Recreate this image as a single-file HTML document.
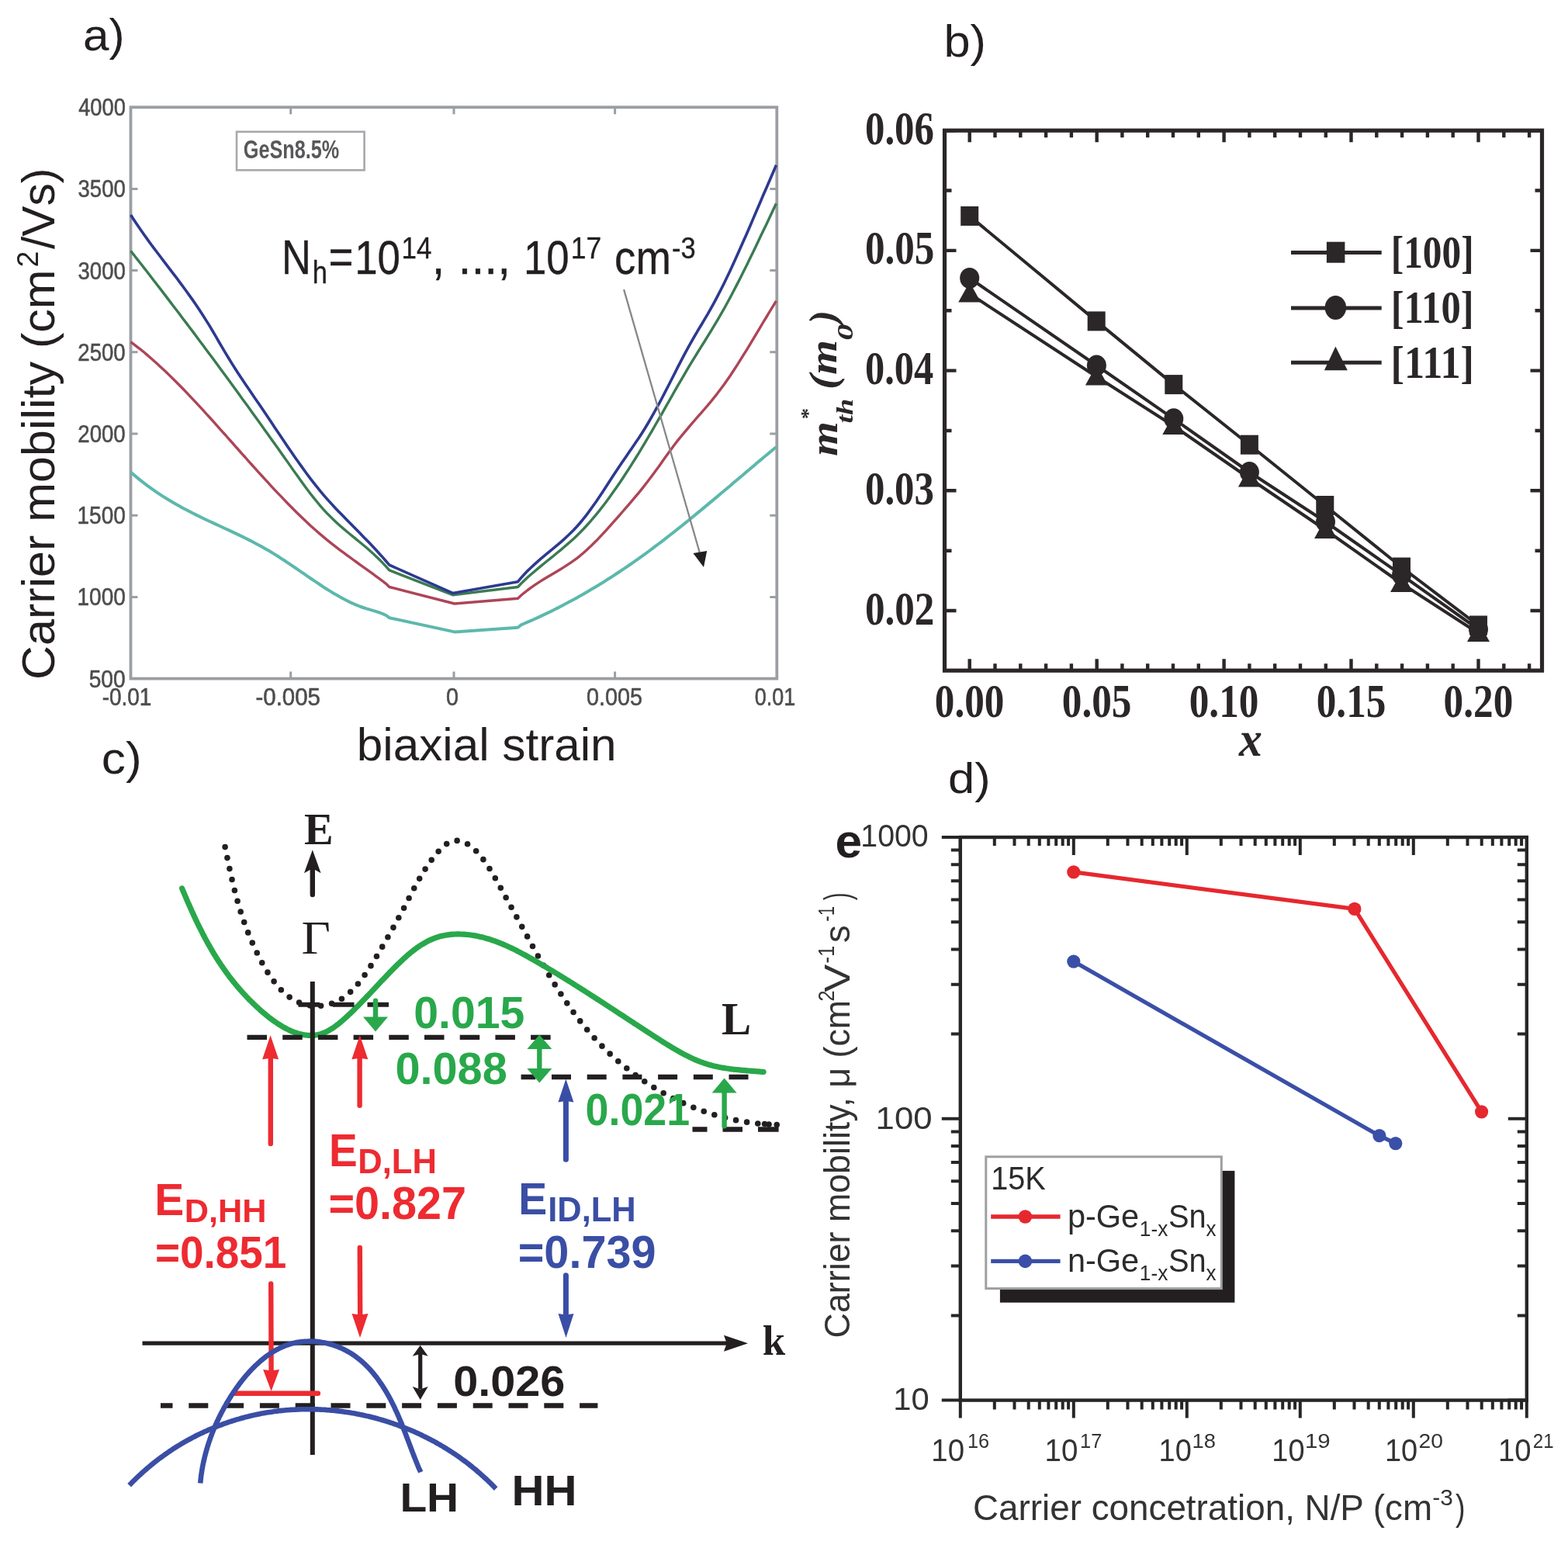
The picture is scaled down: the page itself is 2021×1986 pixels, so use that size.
<!DOCTYPE html>
<html><head><meta charset="utf-8"><title>GeSn carrier mobility figure</title>
<style>html,body{margin:0;padding:0;background:#fff;overflow:hidden;}svg{display:block;}</style>
</head><body>
<svg width="2021" height="1986" viewBox="0 0 2021 1986">
<rect x="168.5" y="138.2" width="832.8" height="736.4" fill="none" stroke="#9b9ea2" stroke-width="3.8"/>
<path d="M374.7,874.6v-9 M374.7,138.2v9 M585.0,874.6v-9 M585.0,138.2v9 M792.6,874.6v-9 M792.6,138.2v9 M168.5,769.4h9 M1001.3,769.4h-9 M168.5,664.2h9 M1001.3,664.2h-9 M168.5,559.0h9 M1001.3,559.0h-9 M168.5,453.8h9 M1001.3,453.8h-9 M168.5,348.6h9 M1001.3,348.6h-9 M168.5,243.4h9 M1001.3,243.4h-9" stroke="#9b9ea2" stroke-width="3" fill="none"/>
<path d="M168.5,608.4 L172.7,612.1 L176.9,615.6 L181.2,619.1 L185.4,622.4 L189.6,625.6 L193.8,628.7 L198.0,631.7 L202.3,634.6 L206.5,637.4 L210.7,640.1 L214.9,642.8 L219.1,645.3 L223.3,647.8 L227.6,650.2 L231.8,652.6 L236.0,654.9 L240.2,657.1 L244.4,659.3 L248.7,661.5 L252.9,663.6 L257.1,665.6 L261.3,667.7 L265.5,669.7 L269.8,671.7 L274.0,673.6 L278.2,675.6 L282.4,677.5 L286.6,679.5 L290.9,681.5 L295.1,683.4 L299.3,685.4 L303.5,687.4 L307.7,689.4 L311.9,691.4 L316.2,693.5 L320.4,695.6 L324.6,697.8 L328.8,700.0 L333.0,702.2 L337.3,704.5 L341.5,706.9 L345.7,709.3 L349.9,711.8 L354.1,714.4 L358.4,717.0 L362.6,719.8 L366.8,722.5 L371.0,725.3 L375.2,728.2 L379.4,731.0 L383.7,733.9 L387.9,736.8 L392.1,739.7 L396.3,742.6 L400.5,745.5 L404.8,748.4 L409.0,751.2 L413.2,754.0 L417.4,756.8 L421.6,759.5 L425.9,762.1 L430.1,764.7 L434.3,767.1 L438.5,769.5 L442.7,771.8 L447.0,774.0 L451.2,776.1 L455.4,778.0 L459.6,779.8 L463.8,781.5 L468.0,783.0 L472.3,784.4 L476.5,785.6 L480.7,786.9 L484.9,788.1 L489.1,789.5 L493.4,791.1 L497.6,793.0 L501.8,796.2 L585.8,814.4 L667.5,808.7 L671.7,805.3 L675.9,803.5 L680.1,801.7 L684.4,799.8 L688.6,798.0 L692.8,796.1 L697.0,794.1 L701.2,792.1 L705.4,790.1 L709.7,788.1 L713.9,786.0 L718.1,783.9 L722.3,781.7 L726.5,779.5 L730.7,777.3 L734.9,775.0 L739.2,772.8 L743.4,770.4 L747.6,768.1 L751.8,765.7 L756.0,763.2 L760.2,760.8 L764.4,758.3 L768.7,755.7 L772.9,753.2 L777.1,750.6 L781.3,747.9 L785.5,745.3 L789.7,742.6 L794.0,739.8 L798.2,737.0 L802.4,734.2 L806.6,731.4 L810.8,728.5 L815.0,725.6 L819.2,722.6 L823.5,719.7 L827.7,716.6 L831.9,713.6 L836.1,710.5 L840.3,707.4 L844.5,704.2 L848.8,701.0 L853.0,697.8 L857.2,694.6 L861.4,691.3 L865.6,688.0 L869.8,684.7 L874.0,681.4 L878.3,678.0 L882.5,674.6 L886.7,671.2 L890.9,667.8 L895.1,664.4 L899.3,660.9 L903.6,657.4 L907.8,653.9 L912.0,650.4 L916.2,646.9 L920.4,643.4 L924.6,639.9 L928.8,636.3 L933.1,632.8 L937.3,629.2 L941.5,625.7 L945.7,622.1 L949.9,618.5 L954.1,615.0 L958.3,611.4 L962.6,607.8 L966.8,604.3 L971.0,600.7 L975.2,597.1 L979.4,593.6 L983.6,590.0 L987.9,586.5 L992.1,583.0 L996.3,579.5 L1000.5,576.0" fill="none" stroke="#5cb8ac" stroke-width="4.0" stroke-linejoin="round"/>
<path d="M168.5,440.7 L172.7,443.8 L176.9,447.1 L181.2,450.4 L185.4,453.8 L189.6,457.4 L193.8,461.0 L198.0,464.7 L202.3,468.5 L206.5,472.4 L210.7,476.3 L214.9,480.3 L219.1,484.4 L223.3,488.5 L227.6,492.7 L231.8,497.0 L236.0,501.3 L240.2,505.7 L244.4,510.1 L248.7,514.6 L252.9,519.1 L257.1,523.7 L261.3,528.2 L265.5,532.9 L269.8,537.5 L274.0,542.2 L278.2,546.9 L282.4,551.6 L286.6,556.3 L290.9,561.0 L295.1,565.8 L299.3,570.5 L303.5,575.3 L307.7,580.0 L311.9,584.8 L316.2,589.5 L320.4,594.3 L324.6,599.0 L328.8,603.7 L333.0,608.4 L337.3,613.0 L341.5,617.6 L345.7,622.2 L349.9,626.8 L354.1,631.3 L358.4,635.8 L362.6,640.2 L366.8,644.6 L371.0,649.0 L375.2,653.3 L379.4,657.5 L383.7,661.7 L387.9,665.8 L392.1,669.8 L396.3,673.8 L400.5,677.7 L404.8,681.5 L409.0,685.2 L413.2,688.9 L417.4,692.4 L421.6,695.9 L425.9,699.3 L430.1,702.6 L434.3,705.9 L438.5,709.1 L442.7,712.2 L447.0,715.4 L451.2,718.4 L455.4,721.5 L459.6,724.5 L463.8,727.6 L468.0,730.6 L472.3,733.6 L476.5,736.7 L480.7,739.7 L484.9,742.8 L489.1,745.9 L493.4,749.1 L497.6,752.3 L501.8,756.5 L585.8,778.0 L667.5,771.2 L671.7,767.3 L675.9,763.8 L680.1,760.5 L684.4,757.4 L688.6,754.4 L692.8,751.6 L697.0,748.9 L701.2,746.3 L705.4,743.8 L709.7,741.3 L713.9,738.8 L718.1,736.3 L722.3,733.7 L726.5,731.1 L730.7,728.4 L734.9,725.6 L739.2,722.7 L743.4,719.6 L747.6,716.3 L751.8,712.8 L756.0,709.0 L760.2,705.1 L764.4,701.0 L768.7,696.8 L772.9,692.4 L777.1,687.9 L781.3,683.3 L785.5,678.6 L789.7,673.9 L794.0,669.1 L798.2,664.3 L802.4,659.5 L806.6,654.7 L810.8,649.8 L815.0,644.9 L819.2,639.9 L823.5,634.8 L827.7,629.6 L831.9,624.2 L836.1,618.8 L840.3,613.2 L844.5,607.5 L848.8,601.7 L853.0,595.7 L857.2,589.8 L861.4,583.9 L865.6,578.2 L869.8,572.5 L874.0,567.1 L878.3,561.9 L882.5,556.8 L886.7,551.8 L890.9,546.9 L895.1,542.0 L899.3,537.2 L903.6,532.4 L907.8,527.5 L912.0,522.6 L916.2,517.6 L920.4,512.4 L924.6,507.1 L928.8,501.5 L933.1,495.8 L937.3,489.8 L941.5,483.7 L945.7,477.3 L949.9,470.8 L954.1,464.2 L958.3,457.4 L962.6,450.6 L966.8,443.6 L971.0,436.6 L975.2,429.6 L979.4,422.6 L983.6,415.5 L987.9,408.5 L992.1,401.5 L996.3,394.6 L1000.5,387.8" fill="none" stroke="#ad4557" stroke-width="3.4" stroke-linejoin="round"/>
<path d="M168.5,323.4 L172.7,328.7 L176.9,334.1 L181.2,339.5 L185.4,344.9 L189.6,350.3 L193.8,355.8 L198.0,361.2 L202.3,366.7 L206.5,372.1 L210.7,377.6 L214.9,383.1 L219.1,388.6 L223.3,394.2 L227.6,399.7 L231.8,405.3 L236.0,410.9 L240.2,416.4 L244.4,422.0 L248.7,427.6 L252.9,433.3 L257.1,438.9 L261.3,444.6 L265.5,450.2 L269.8,455.9 L274.0,461.6 L278.2,467.3 L282.4,473.0 L286.6,478.7 L290.9,484.5 L295.1,490.2 L299.3,496.0 L303.5,501.8 L307.7,507.6 L311.9,513.4 L316.2,519.2 L320.4,525.0 L324.6,530.9 L328.8,536.7 L333.0,542.6 L337.3,548.5 L341.5,554.4 L345.7,560.3 L349.9,566.2 L354.1,572.1 L358.4,578.0 L362.6,584.0 L366.8,589.9 L371.0,595.9 L375.2,601.9 L379.4,607.9 L383.7,613.8 L387.9,619.7 L392.1,625.5 L396.3,631.2 L400.5,636.7 L404.8,642.1 L409.0,647.3 L413.2,652.3 L417.4,657.1 L421.6,661.6 L425.9,665.9 L430.1,670.0 L434.3,673.9 L438.5,677.7 L442.7,681.4 L447.0,685.0 L451.2,688.5 L455.4,691.9 L459.6,695.4 L463.8,698.8 L468.0,702.3 L472.3,705.8 L476.5,709.5 L480.7,713.3 L484.9,717.2 L489.1,721.3 L493.4,725.6 L497.6,730.1 L501.8,734.9 L583.5,766.7 L667.5,756.5 L671.7,752.0 L675.9,748.0 L680.1,744.1 L684.4,740.3 L688.6,736.7 L692.8,733.1 L697.0,729.6 L701.2,726.2 L705.4,722.8 L709.7,719.4 L713.9,716.0 L718.1,712.5 L722.3,709.1 L726.5,705.5 L730.7,701.9 L734.9,698.2 L739.2,694.4 L743.4,690.4 L747.6,686.3 L751.8,682.0 L756.0,677.5 L760.2,672.8 L764.4,667.9 L768.7,662.8 L772.9,657.6 L777.1,652.2 L781.3,646.7 L785.5,641.0 L789.7,635.1 L794.0,629.1 L798.2,623.0 L802.4,616.7 L806.6,610.3 L810.8,603.8 L815.0,597.2 L819.2,590.5 L823.5,583.6 L827.7,576.7 L831.9,569.6 L836.1,562.5 L840.3,555.3 L844.5,548.0 L848.8,540.7 L853.0,533.3 L857.2,525.9 L861.4,518.5 L865.6,511.1 L869.8,503.7 L874.0,496.3 L878.3,489.1 L882.5,481.8 L886.7,474.7 L890.9,467.7 L895.1,460.8 L899.3,454.0 L903.6,447.2 L907.8,440.5 L912.0,433.7 L916.2,426.8 L920.4,419.9 L924.6,412.8 L928.8,405.6 L933.1,398.2 L937.3,390.5 L941.5,382.7 L945.7,374.8 L949.9,366.6 L954.1,358.4 L958.3,350.0 L962.6,341.5 L966.8,332.8 L971.0,324.2 L975.2,315.4 L979.4,306.6 L983.6,297.7 L987.9,288.9 L992.1,280.0 L996.3,271.1 L1000.5,262.2" fill="none" stroke="#3b7b52" stroke-width="3.4" stroke-linejoin="round"/>
<path d="M168.5,277.0 L172.7,283.5 L176.9,289.8 L181.2,296.0 L185.4,302.0 L189.6,307.9 L193.8,313.7 L198.0,319.3 L202.3,325.0 L206.5,330.5 L210.7,336.1 L214.9,341.6 L219.1,347.1 L223.3,352.6 L227.6,358.2 L231.8,363.8 L236.0,369.5 L240.2,375.2 L244.4,381.1 L248.7,387.1 L252.9,393.2 L257.1,399.5 L261.3,405.9 L265.5,412.6 L269.8,419.4 L274.0,426.5 L278.2,433.7 L282.4,441.0 L286.6,448.2 L290.9,455.4 L295.1,462.3 L299.3,469.1 L303.5,475.8 L307.7,482.2 L311.9,488.6 L316.2,494.9 L320.4,501.1 L324.6,507.3 L328.8,513.5 L333.0,519.6 L337.3,525.8 L341.5,532.1 L345.7,538.3 L349.9,544.6 L354.1,550.9 L358.4,557.2 L362.6,563.5 L366.8,569.7 L371.0,575.9 L375.2,582.1 L379.4,588.2 L383.7,594.2 L387.9,600.1 L392.1,606.0 L396.3,611.7 L400.5,617.3 L404.8,622.8 L409.0,628.1 L413.2,633.3 L417.4,638.3 L421.6,643.1 L425.9,647.9 L430.1,652.4 L434.3,656.9 L438.5,661.3 L442.7,665.6 L447.0,669.9 L451.2,674.2 L455.4,678.5 L459.6,682.8 L463.8,687.1 L468.0,691.4 L472.3,695.7 L476.5,700.1 L480.7,704.6 L484.9,709.1 L489.1,713.7 L493.4,718.4 L497.6,723.2 L501.8,728.1 L583.5,764.4 L667.5,749.7 L671.7,744.6 L675.9,740.0 L680.1,735.6 L684.4,731.5 L688.6,727.6 L692.8,723.8 L697.0,720.1 L701.2,716.6 L705.4,713.1 L709.7,709.6 L713.9,706.2 L718.1,702.7 L722.3,699.1 L726.5,695.4 L730.7,691.5 L734.9,687.5 L739.2,683.3 L743.4,678.8 L747.6,674.0 L751.8,668.9 L756.0,663.6 L760.2,657.9 L764.4,652.0 L768.7,646.0 L772.9,639.7 L777.1,633.4 L781.3,627.0 L785.5,620.5 L789.7,614.0 L794.0,607.6 L798.2,601.3 L802.4,595.0 L806.6,588.9 L810.8,582.8 L815.0,576.7 L819.2,570.6 L823.5,564.3 L827.7,557.8 L831.9,551.0 L836.1,544.0 L840.3,536.7 L844.5,529.1 L848.8,521.4 L853.0,513.5 L857.2,505.4 L861.4,497.2 L865.6,489.0 L869.8,480.7 L874.0,472.4 L878.3,464.2 L882.5,456.2 L886.7,448.4 L890.9,440.8 L895.1,433.5 L899.3,426.3 L903.6,419.3 L907.8,412.2 L912.0,405.1 L916.2,397.7 L920.4,390.1 L924.6,382.2 L928.8,374.0 L933.1,365.5 L937.3,356.8 L941.5,347.9 L945.7,338.8 L949.9,329.5 L954.1,320.1 L958.3,310.6 L962.6,300.9 L966.8,291.2 L971.0,281.4 L975.2,271.5 L979.4,261.7 L983.6,251.8 L987.9,242.0 L992.1,232.2 L996.3,222.5 L1000.5,212.8" fill="none" stroke="#2d3a8f" stroke-width="3.6" stroke-linejoin="round"/>
<rect x="305" y="169.8" width="164.6" height="49.5" fill="#fff" stroke="#a6a8ab" stroke-width="2.6"/>
<path d="M804.1,373.1 L903.5,718" stroke="#85878a" stroke-width="2.3" fill="none"/>
<path d="M893.4,713 L911.2,710 L907,731.1 Z" fill="#231f20"/>
<rect x="1217.5" y="168.2" width="770.0" height="696.0" fill="none" stroke="#2b2728" stroke-width="5.2"/>
<path d="M1249.7,864.2v-15 M1249.7,168.2v15 M1282.5,864.2v-9 M1282.5,168.2v9 M1315.3,864.2v-9 M1315.3,168.2v9 M1348.1,864.2v-9 M1348.1,168.2v9 M1380.9,864.2v-9 M1380.9,168.2v9 M1413.7,864.2v-15 M1413.7,168.2v15 M1446.4,864.2v-9 M1446.4,168.2v9 M1479.2,864.2v-9 M1479.2,168.2v9 M1512.0,864.2v-9 M1512.0,168.2v9 M1544.8,864.2v-9 M1544.8,168.2v9 M1577.6,864.2v-15 M1577.6,168.2v15 M1610.4,864.2v-9 M1610.4,168.2v9 M1643.2,864.2v-9 M1643.2,168.2v9 M1676.0,864.2v-9 M1676.0,168.2v9 M1708.8,864.2v-9 M1708.8,168.2v9 M1741.5,864.2v-15 M1741.5,168.2v15 M1774.3,864.2v-9 M1774.3,168.2v9 M1807.1,864.2v-9 M1807.1,168.2v9 M1839.9,864.2v-9 M1839.9,168.2v9 M1872.7,864.2v-9 M1872.7,168.2v9 M1905.5,864.2v-15 M1905.5,168.2v15 M1938.3,864.2v-9 M1938.3,168.2v9 M1971.1,864.2v-9 M1971.1,168.2v9 M1217.5,168.2h15 M1987.5,168.2h-15 M1217.5,245.5h9 M1987.5,245.5h-9 M1217.5,322.9h15 M1987.5,322.9h-15 M1217.5,400.2h9 M1987.5,400.2h-9 M1217.5,477.6h15 M1987.5,477.6h-15 M1217.5,555.0h9 M1987.5,555.0h-9 M1217.5,632.3h15 M1987.5,632.3h-15 M1217.5,709.7h9 M1987.5,709.7h-9 M1217.5,787.0h15 M1987.5,787.0h-15" stroke="#2b2728" stroke-width="4.4" fill="none"/>
<path d="M1249.7,378.5 L1413.4,485.5 L1512.8,549.0 L1610.4,616.5 L1708.5,683.0 L1806.5,752.0 L1905.5,816.0" fill="none" stroke="#2b2728" stroke-width="4.0" stroke-linejoin="round"/>
<path d="M1249.7,358.4 L1413.4,471.0 L1512.8,539.8 L1610.4,608.5 L1708.5,672.5 L1806.5,741.0 L1905.5,811.0" fill="none" stroke="#2b2728" stroke-width="4.0" stroke-linejoin="round"/>
<path d="M1249.7,278.4 L1413.2,413.9 L1512.8,495.6 L1610.4,573.2 L1707.8,651.5 L1806.5,731.0 L1905.5,806.0" fill="none" stroke="#2b2728" stroke-width="4.0" stroke-linejoin="round"/>
<rect x="1238.2" y="265.9" width="23" height="25" fill="#2b2728"/>
<rect x="1401.7" y="401.4" width="23" height="25" fill="#2b2728"/>
<rect x="1501.3" y="483.1" width="23" height="25" fill="#2b2728"/>
<rect x="1598.9" y="560.7" width="23" height="25" fill="#2b2728"/>
<rect x="1696.3" y="639.0" width="23" height="25" fill="#2b2728"/>
<rect x="1795.0" y="718.5" width="23" height="25" fill="#2b2728"/>
<rect x="1894.0" y="793.5" width="23" height="25" fill="#2b2728"/>
<ellipse cx="1249.7" cy="358.4" rx="12.5" ry="13.5" fill="#2b2728"/>
<ellipse cx="1413.4" cy="471.0" rx="12.5" ry="13.5" fill="#2b2728"/>
<ellipse cx="1512.8" cy="539.8" rx="12.5" ry="13.5" fill="#2b2728"/>
<ellipse cx="1610.4" cy="608.5" rx="12.5" ry="13.5" fill="#2b2728"/>
<ellipse cx="1708.5" cy="672.5" rx="12.5" ry="13.5" fill="#2b2728"/>
<ellipse cx="1806.5" cy="741.0" rx="12.5" ry="13.5" fill="#2b2728"/>
<ellipse cx="1905.5" cy="811.0" rx="12.5" ry="13.5" fill="#2b2728"/>
<path d="M1249.7,363.5 L1264.2,389.5 L1235.2,389.5Z" fill="#2b2728"/>
<path d="M1413.4,470.5 L1427.9,496.5 L1398.9,496.5Z" fill="#2b2728"/>
<path d="M1512.8,534.0 L1527.3,560.0 L1498.3,560.0Z" fill="#2b2728"/>
<path d="M1610.4,601.5 L1624.9,627.5 L1595.9,627.5Z" fill="#2b2728"/>
<path d="M1708.5,668.0 L1723.0,694.0 L1694.0,694.0Z" fill="#2b2728"/>
<path d="M1806.5,737.0 L1821.0,763.0 L1792.0,763.0Z" fill="#2b2728"/>
<path d="M1905.5,801.0 L1920.0,827.0 L1891.0,827.0Z" fill="#2b2728"/>
<path d="M1664,325.6H1780.7" stroke="#2b2728" stroke-width="5"/>
<path d="M1664,397.1H1780.7" stroke="#2b2728" stroke-width="5"/>
<path d="M1664,467.3H1780.7" stroke="#2b2728" stroke-width="5"/>
<rect x="1709.9" y="311.7" width="23.5" height="27" fill="#2b2728"/>
<ellipse cx="1721.4" cy="396.5" rx="13.7" ry="15.5" fill="#2b2728"/>
<path d="M1721.4,446.4 L1736.8,477.3 L1706.9,477.3Z" fill="#2b2728"/>
<path d="M290.1,1091.6 L290.6,1093.7 L291.0,1095.9 L291.4,1098.0 L291.9,1100.1 L292.3,1102.2 L292.7,1104.3 L293.1,1106.4 L293.6,1108.4 L294.0,1110.5 L294.4,1112.5 L294.9,1114.6 L295.3,1116.6 L295.7,1118.6 L296.1,1120.6 L296.6,1122.6 L297.0,1124.6 L297.5,1126.6 L297.9,1128.5 L298.3,1130.5 L298.8,1132.4 L299.2,1134.4 L299.7,1136.3 L300.1,1138.2 L300.6,1140.2 L301.1,1142.1 L301.5,1144.0 L302.0,1145.9 L302.5,1147.8 L303.0,1149.7 L303.4,1151.6 L303.9,1153.4 L304.4,1155.3 L304.9,1157.2 L305.5,1159.0 L306.0,1160.9 L306.5,1162.8 L307.0,1164.6 L307.6,1166.5 L308.1,1168.3 L308.7,1170.1 L309.2,1172.0 L309.8,1173.8 L310.4,1175.7 L311.0,1177.5 L311.5,1179.3 L312.2,1181.2 L312.8,1183.0 L313.4,1184.8 L314.0,1186.7 L314.7,1188.5 L315.3,1190.3 L316.0,1192.1 L316.7,1194.0 L317.3,1195.8 L318.0,1197.6 L318.7,1199.5 L319.5,1201.3 L320.2,1203.2 L320.9,1205.0 L321.7,1206.8 L322.5,1208.7 L323.3,1210.5 L324.1,1212.4 L324.9,1214.3 L325.7,1216.1 L326.5,1218.0 L327.4,1219.9 L328.2,1221.7 L329.1,1223.6 L330.0,1225.5 L330.9,1227.4 L331.9,1229.3 L332.8,1231.2 L333.8,1233.1 L334.7,1235.0 L335.7,1236.9 L336.7,1238.8 L337.7,1240.7 L338.8,1242.6 L339.8,1244.5 L340.9,1246.4 L342.0,1248.3 L343.1,1250.1 L344.2,1252.0 L345.4,1253.8 L346.6,1255.6 L347.7,1257.4 L348.9,1259.2 L350.2,1260.9 L351.4,1262.6 L352.7,1264.3 L353.9,1266.0 L355.2,1267.7 L356.5,1269.3 L357.9,1270.9 L359.2,1272.4 L360.6,1273.9 L362.0,1275.4 L363.4,1276.9 L364.9,1278.2 L366.3,1279.6 L367.8,1280.9 L369.3,1282.2 L370.8,1283.4 L372.4,1284.6 L374.0,1285.7 L375.5,1286.7 L377.2,1287.8 L378.8,1288.7 L380.5,1289.6 L382.1,1290.5 L383.8,1291.3 L385.5,1292.0 L387.3,1292.7 L389.0,1293.3 L390.8,1293.9 L392.5,1294.4 L394.3,1294.8 L396.1,1295.2 L397.9,1295.6 L399.7,1295.9 L401.5,1296.1 L403.3,1296.3 L405.2,1296.4 L407.0,1296.5 L408.8,1296.5 L410.6,1296.5 L412.4,1296.4 L414.3,1296.2 L416.1,1296.0 L417.9,1295.8 L419.7,1295.4 L421.5,1295.1 L423.3,1294.6 L425.0,1294.1 L426.8,1293.6 L428.6,1293.0 L430.3,1292.3 L432.0,1291.6 L433.7,1290.9 L435.4,1290.0 L437.1,1289.1 L438.7,1288.2 L440.4,1287.2 L442.0,1286.2 L443.6,1285.1 L445.1,1283.9 L446.7,1282.7 L448.2,1281.4 L449.7,1280.2 L451.2,1278.8 L452.7,1277.4 L454.1,1276.0 L455.6,1274.5 L457.0,1273.0 L458.4,1271.5 L459.8,1269.9 L461.1,1268.3 L462.5,1266.7 L463.8,1265.1 L465.1,1263.4 L466.4,1261.7 L467.7,1259.9 L468.9,1258.2 L470.2,1256.4 L471.4,1254.7 L472.6,1252.9 L473.8,1251.1 L475.0,1249.3 L476.2,1247.5 L477.4,1245.6 L478.5,1243.8 L479.7,1242.0 L480.8,1240.1 L481.9,1238.3 L483.0,1236.5 L484.1,1234.7 L485.2,1232.9 L486.2,1231.1 L487.3,1229.3 L488.4,1227.5 L489.4,1225.7 L490.4,1224.0 L491.5,1222.3 L492.5,1220.5 L493.5,1218.8 L494.5,1217.1 L495.5,1215.4 L496.5,1213.7 L497.4,1212.0 L498.4,1210.3 L499.4,1208.7 L500.3,1207.0 L501.3,1205.3 L502.2,1203.7 L503.2,1202.0 L504.1,1200.4 L505.1,1198.7 L506.0,1197.1 L506.9,1195.4 L507.8,1193.8 L508.8,1192.1 L509.7,1190.4 L510.6,1188.8 L511.5,1187.1 L512.4,1185.5 L513.3,1183.8 L514.2,1182.1 L515.1,1180.4 L516.0,1178.7 L517.0,1177.0 L517.9,1175.3 L518.8,1173.6 L519.7,1171.9 L520.6,1170.2 L521.5,1168.4 L522.4,1166.7 L523.3,1164.9 L524.3,1163.1 L525.2,1161.3 L526.1,1159.5 L527.0,1157.7 L528.0,1155.9 L528.9,1154.1 L529.9,1152.3 L530.8,1150.4 L531.8,1148.6 L532.8,1146.8 L533.7,1144.9 L534.7,1143.1 L535.7,1141.2 L536.7,1139.4 L537.8,1137.5 L538.8,1135.7 L539.8,1133.8 L540.9,1132.0 L541.9,1130.1 L543.0,1128.3 L544.1,1126.5 L545.2,1124.7 L546.4,1122.8 L547.5,1121.0 L548.7,1119.2 L549.8,1117.4 L551.0,1115.6 L552.2,1113.9 L553.5,1112.1 L554.7,1110.3 L556.0,1108.6 L557.3,1106.9 L558.6,1105.1 L559.9,1103.4 L561.3,1101.8 L562.6,1100.1 L564.0,1098.5 L565.4,1096.9 L566.9,1095.4 L568.3,1093.9 L569.8,1092.5 L571.2,1091.1 L572.7,1089.9 L574.2,1088.7 L575.7,1087.6 L577.2,1086.7 L578.7,1085.8 L580.2,1085.1 L581.8,1084.5 L583.3,1084.0 L584.8,1083.7 L586.3,1083.5 L587.9,1083.4 L589.4,1083.4 L590.9,1083.5 L592.4,1083.8 L593.9,1084.1 L595.4,1084.5 L596.9,1085.0 L598.4,1085.6 L599.8,1086.3 L601.3,1087.1 L602.7,1087.9 L604.1,1088.8 L605.5,1089.8 L606.9,1090.8 L608.3,1091.9 L609.6,1093.0 L611.0,1094.2 L612.3,1095.4 L613.6,1096.7 L615.0,1098.1 L616.2,1099.5 L617.5,1100.9 L618.8,1102.4 L620.0,1104.0 L621.3,1105.5 L622.5,1107.1 L623.7,1108.8 L624.9,1110.4 L626.1,1112.1 L627.3,1113.9 L628.5,1115.6 L629.7,1117.4 L630.8,1119.2 L632.0,1121.0 L633.1,1122.9 L634.2,1124.7 L635.3,1126.6 L636.5,1128.5 L637.6,1130.4 L638.6,1132.3 L639.7,1134.2 L640.8,1136.1 L641.9,1138.0 L642.9,1139.9 L644.0,1141.8 L645.0,1143.7 L646.1,1145.6 L647.1,1147.4 L648.1,1149.3 L649.1,1151.2 L650.1,1153.0 L651.1,1154.8 L652.1,1156.7 L653.1,1158.5 L654.1,1160.3 L655.1,1162.1 L656.1,1163.9 L657.1,1165.7 L658.0,1167.5 L659.0,1169.2 L660.0,1171.0 L660.9,1172.8 L661.9,1174.5 L662.8,1176.3 L663.8,1178.0 L664.7,1179.7 L665.7,1181.5 L666.6,1183.2 L667.6,1184.9 L668.5,1186.7 L669.5,1188.4 L670.4,1190.1 L671.3,1191.8 L672.3,1193.5 L673.2,1195.2 L674.1,1197.0 L675.1,1198.7 L676.0,1200.4 L677.0,1202.1 L677.9,1203.8 L678.8,1205.5 L679.8,1207.2 L680.7,1208.9 L681.7,1210.7 L682.6,1212.4 L683.6,1214.1 L684.5,1215.8 L685.5,1217.6 L686.4,1219.3 L687.4,1221.0 L688.3,1222.7 L689.3,1224.5 L690.2,1226.2 L691.2,1227.9 L692.2,1229.6 L693.1,1231.4 L694.1,1233.1 L695.1,1234.8 L696.1,1236.6 L697.1,1238.3 L698.1,1240.0 L699.0,1241.8 L700.0,1243.5 L701.0,1245.2 L702.0,1246.9 L703.0,1248.7 L704.0,1250.4 L705.1,1252.1 L706.1,1253.8 L707.1,1255.6 L708.1,1257.3 L709.1,1259.0 L710.2,1260.7 L711.2,1262.4 L712.3,1264.1 L713.3,1265.8 L714.4,1267.5 L715.4,1269.3 L716.5,1271.0 L717.5,1272.7 L718.6,1274.4 L719.7,1276.0 L720.8,1277.7 L721.9,1279.4 L723.0,1281.1 L724.1,1282.8 L725.2,1284.5 L726.3,1286.1 L727.4,1287.8 L728.5,1289.5 L729.6,1291.1 L730.8,1292.8 L731.9,1294.5 L733.1,1296.1 L734.2,1297.8 L735.4,1299.4 L736.5,1301.0 L737.7,1302.7 L738.9,1304.3 L740.1,1305.9 L741.3,1307.5 L742.5,1309.1 L743.7,1310.7 L744.9,1312.3 L746.1,1313.9 L747.4,1315.5 L748.6,1317.1 L749.8,1318.7 L751.1,1320.2 L752.4,1321.8 L753.6,1323.3 L754.9,1324.9 L756.2,1326.4 L757.5,1328.0 L758.8,1329.5 L760.1,1331.0 L761.4,1332.5 L762.7,1334.0 L764.1,1335.5 L765.4,1337.0 L766.8,1338.5 L768.1,1340.0 L769.5,1341.5 L770.9,1342.9 L772.3,1344.4 L773.6,1345.8 L775.0,1347.3 L776.5,1348.7 L777.9,1350.1 L779.3,1351.5 L780.7,1352.9 L782.2,1354.3 L783.6,1355.7 L785.1,1357.1 L786.5,1358.5 L788.0,1359.8 L789.5,1361.2 L791.0,1362.6 L792.4,1363.9 L793.9,1365.2 L795.5,1366.6 L797.0,1367.9 L798.5,1369.2 L800.0,1370.5 L801.5,1371.8 L803.1,1373.0 L804.6,1374.3 L806.2,1375.6 L807.8,1376.8 L809.3,1378.1 L810.9,1379.3 L812.5,1380.5 L814.1,1381.8 L815.7,1383.0 L817.3,1384.2 L818.9,1385.4 L820.5,1386.6 L822.1,1387.7 L823.8,1388.9 L825.4,1390.0 L827.0,1391.2 L828.7,1392.3 L830.3,1393.5 L832.0,1394.6 L833.7,1395.7 L835.3,1396.8 L837.0,1397.9 L838.7,1398.9 L840.4,1400.0 L842.1,1401.1 L843.8,1402.1 L845.5,1403.2 L847.2,1404.2 L848.9,1405.2 L850.7,1406.2 L852.4,1407.2 L854.1,1408.2 L855.9,1409.2 L857.6,1410.1 L859.4,1411.1 L861.1,1412.0 L862.9,1413.0 L864.7,1413.9 L866.4,1414.8 L868.2,1415.7 L870.0,1416.6 L871.8,1417.5 L873.6,1418.4 L875.4,1419.2 L877.2,1420.1 L879.0,1420.9 L880.8,1421.7 L882.7,1422.6 L884.5,1423.4 L886.3,1424.2 L888.2,1424.9 L890.0,1425.7 L891.8,1426.5 L893.7,1427.2 L895.5,1428.0 L897.4,1428.7 L899.3,1429.4 L901.1,1430.1 L903.0,1430.8 L904.9,1431.5 L906.8,1432.1 L908.7,1432.8 L910.5,1433.5 L912.4,1434.1 L914.3,1434.7 L916.2,1435.3 L918.1,1435.9 L920.1,1436.5 L922.0,1437.1 L923.9,1437.6 L925.8,1438.2 L927.7,1438.7 L929.7,1439.2 L931.6,1439.8 L933.5,1440.3 L935.5,1440.7 L937.4,1441.2 L939.4,1441.7 L941.3,1442.1 L943.3,1442.6 L945.2,1443.0 L947.2,1443.4 L949.2,1443.8 L951.1,1444.2 L953.1,1444.6 L955.1,1444.9 L957.0,1445.3 L959.0,1445.6 L961.0,1445.9 L963.0,1446.2 L965.0,1446.5 L967.0,1446.8 L969.0,1447.1 L971.0,1447.3 L973.0,1447.6 L975.0,1447.8 L977.0,1448.0 L979.0,1448.2 L981.0,1448.4 L983.0,1448.6 L985.0,1448.7 L987.1,1448.9 L989.1,1449.0 L991.1,1449.1 L993.1,1449.2 L995.2,1449.3 L997.2,1449.4 L999.2,1449.5 L1001.2,1449.5" fill="none" stroke="#231f20" stroke-width="7.6" stroke-linecap="round" stroke-dasharray="0 14.3"/>
<path d="M234.6,1144.9 L235.4,1146.8 L236.2,1148.8 L237.0,1150.7 L237.8,1152.6 L238.7,1154.6 L239.5,1156.5 L240.3,1158.4 L241.1,1160.3 L241.9,1162.2 L242.8,1164.1 L243.6,1166.0 L244.4,1167.9 L245.3,1169.8 L246.1,1171.6 L246.9,1173.5 L247.8,1175.3 L248.6,1177.2 L249.5,1179.0 L250.3,1180.9 L251.2,1182.7 L252.0,1184.5 L252.9,1186.4 L253.8,1188.2 L254.6,1190.0 L255.5,1191.8 L256.4,1193.6 L257.3,1195.4 L258.2,1197.2 L259.1,1198.9 L260.0,1200.7 L260.9,1202.5 L261.8,1204.3 L262.7,1206.0 L263.6,1207.8 L264.5,1209.5 L265.5,1211.2 L266.4,1213.0 L267.4,1214.7 L268.3,1216.4 L269.3,1218.1 L270.3,1219.8 L271.2,1221.5 L272.2,1223.2 L273.2,1224.9 L274.2,1226.6 L275.2,1228.3 L276.2,1230.0 L277.3,1231.6 L278.3,1233.3 L279.3,1235.0 L280.4,1236.6 L281.4,1238.3 L282.5,1239.9 L283.6,1241.5 L284.7,1243.2 L285.8,1244.8 L286.9,1246.4 L288.0,1248.0 L289.1,1249.6 L290.3,1251.2 L291.4,1252.8 L292.6,1254.4 L293.8,1256.0 L294.9,1257.6 L296.1,1259.2 L297.3,1260.7 L298.5,1262.3 L299.8,1263.8 L301.0,1265.4 L302.3,1266.9 L303.5,1268.5 L304.8,1270.0 L306.1,1271.6 L307.4,1273.1 L308.7,1274.6 L310.0,1276.1 L311.4,1277.6 L312.7,1279.1 L314.1,1280.6 L315.5,1282.1 L316.9,1283.6 L318.3,1285.1 L319.7,1286.6 L321.1,1288.1 L322.6,1289.5 L324.1,1291.0 L325.5,1292.4 L327.0,1293.9 L328.6,1295.3 L330.1,1296.8 L331.6,1298.2 L333.2,1299.7 L334.8,1301.1 L336.3,1302.5 L337.9,1303.9 L339.6,1305.3 L341.2,1306.6 L342.8,1308.0 L344.5,1309.3 L346.1,1310.7 L347.8,1312.0 L349.5,1313.2 L351.2,1314.5 L352.9,1315.7 L354.6,1316.9 L356.3,1318.1 L358.0,1319.3 L359.8,1320.4 L361.5,1321.5 L363.3,1322.5 L365.0,1323.6 L366.8,1324.5 L368.6,1325.5 L370.3,1326.4 L372.1,1327.3 L373.9,1328.1 L375.7,1328.9 L377.5,1329.6 L379.3,1330.3 L381.1,1330.9 L382.9,1331.5 L384.7,1332.1 L386.5,1332.6 L388.3,1333.0 L390.1,1333.4 L391.9,1333.7 L393.7,1334.0 L395.5,1334.2 L397.3,1334.3 L399.1,1334.4 L400.9,1334.4 L402.7,1334.4 L404.5,1334.3 L406.3,1334.1 L408.0,1333.8 L409.8,1333.5 L411.5,1333.1 L413.3,1332.6 L415.0,1332.0 L416.8,1331.4 L418.5,1330.7 L420.2,1329.9 L421.9,1329.1 L423.6,1328.2 L425.2,1327.2 L426.9,1326.2 L428.6,1325.2 L430.2,1324.1 L431.8,1322.9 L433.5,1321.7 L435.1,1320.5 L436.7,1319.2 L438.3,1317.9 L439.9,1316.6 L441.5,1315.2 L443.0,1313.8 L444.6,1312.4 L446.2,1311.0 L447.7,1309.6 L449.2,1308.2 L450.8,1306.7 L452.3,1305.3 L453.8,1303.8 L455.3,1302.4 L456.8,1300.9 L458.2,1299.4 L459.7,1298.0 L461.2,1296.5 L462.7,1295.0 L464.1,1293.5 L465.6,1292.0 L467.0,1290.6 L468.4,1289.1 L469.9,1287.6 L471.3,1286.1 L472.7,1284.6 L474.2,1283.1 L475.6,1281.6 L477.0,1280.1 L478.4,1278.6 L479.8,1277.1 L481.2,1275.6 L482.6,1274.1 L484.0,1272.6 L485.4,1271.1 L486.8,1269.6 L488.2,1268.1 L489.6,1266.6 L491.0,1265.1 L492.4,1263.6 L493.8,1262.2 L495.2,1260.7 L496.7,1259.2 L498.1,1257.7 L499.5,1256.2 L500.9,1254.8 L502.3,1253.3 L503.7,1251.9 L505.1,1250.4 L506.6,1248.9 L508.0,1247.5 L509.4,1246.1 L510.9,1244.6 L512.3,1243.2 L513.8,1241.8 L515.3,1240.4 L516.7,1239.0 L518.2,1237.6 L519.7,1236.2 L521.2,1234.8 L522.7,1233.5 L524.2,1232.1 L525.7,1230.8 L527.2,1229.5 L528.7,1228.2 L530.3,1227.0 L531.8,1225.7 L533.4,1224.5 L535.0,1223.3 L536.5,1222.2 L538.1,1221.0 L539.7,1219.9 L541.4,1218.8 L543.0,1217.8 L544.6,1216.8 L546.3,1215.8 L548.0,1214.8 L549.6,1213.9 L551.3,1213.0 L553.1,1212.1 L554.8,1211.3 L556.5,1210.6 L558.3,1209.8 L560.1,1209.1 L561.8,1208.5 L563.7,1207.9 L565.5,1207.3 L567.3,1206.8 L569.2,1206.3 L571.0,1205.9 L572.9,1205.5 L574.8,1205.2 L576.7,1204.9 L578.7,1204.6 L580.6,1204.4 L582.6,1204.2 L584.5,1204.1 L586.5,1204.0 L588.4,1203.9 L590.4,1203.9 L592.4,1203.9 L594.4,1204.0 L596.4,1204.1 L598.4,1204.2 L600.4,1204.3 L602.4,1204.5 L604.4,1204.7 L606.4,1205.0 L608.4,1205.3 L610.4,1205.6 L612.4,1205.9 L614.4,1206.3 L616.4,1206.7 L618.4,1207.2 L620.4,1207.6 L622.4,1208.1 L624.3,1208.6 L626.3,1209.2 L628.3,1209.7 L630.2,1210.3 L632.2,1210.9 L634.1,1211.6 L636.0,1212.2 L638.0,1212.9 L639.9,1213.6 L641.8,1214.3 L643.7,1215.1 L645.6,1215.8 L647.5,1216.6 L649.3,1217.4 L651.2,1218.2 L653.1,1219.0 L654.9,1219.9 L656.8,1220.8 L658.7,1221.6 L660.5,1222.5 L662.3,1223.4 L664.2,1224.3 L666.0,1225.2 L667.8,1226.2 L669.7,1227.1 L671.5,1228.1 L673.3,1229.1 L675.1,1230.0 L676.9,1231.0 L678.7,1232.0 L680.5,1233.0 L682.2,1234.0 L684.0,1235.0 L685.8,1236.0 L687.6,1237.0 L689.3,1238.0 L691.1,1239.0 L692.9,1240.1 L694.6,1241.1 L696.4,1242.1 L698.1,1243.1 L699.9,1244.2 L701.6,1245.2 L703.4,1246.2 L705.1,1247.3 L706.8,1248.3 L708.6,1249.3 L710.3,1250.4 L712.0,1251.4 L713.7,1252.4 L715.5,1253.5 L717.2,1254.5 L718.9,1255.5 L720.6,1256.6 L722.3,1257.6 L724.0,1258.7 L725.7,1259.7 L727.4,1260.8 L729.1,1261.8 L730.8,1262.9 L732.5,1263.9 L734.2,1265.0 L735.9,1266.0 L737.6,1267.1 L739.2,1268.1 L740.9,1269.2 L742.6,1270.3 L744.3,1271.3 L746.0,1272.4 L747.6,1273.4 L749.3,1274.5 L751.0,1275.6 L752.7,1276.6 L754.3,1277.7 L756.0,1278.8 L757.7,1279.8 L759.4,1280.9 L761.0,1282.0 L762.7,1283.1 L764.4,1284.1 L766.0,1285.2 L767.7,1286.3 L769.3,1287.4 L771.0,1288.4 L772.7,1289.5 L774.3,1290.6 L776.0,1291.7 L777.7,1292.7 L779.3,1293.8 L781.0,1294.9 L782.6,1296.0 L784.3,1297.1 L786.0,1298.2 L787.6,1299.2 L789.3,1300.3 L791.0,1301.4 L792.6,1302.5 L794.3,1303.6 L795.9,1304.7 L797.6,1305.8 L799.3,1306.9 L800.9,1307.9 L802.6,1309.0 L804.3,1310.1 L805.9,1311.2 L807.6,1312.3 L809.3,1313.4 L810.9,1314.5 L812.6,1315.6 L814.3,1316.7 L816.0,1317.8 L817.6,1318.9 L819.3,1320.0 L821.0,1321.1 L822.7,1322.2 L824.4,1323.3 L826.1,1324.4 L827.7,1325.5 L829.4,1326.6 L831.1,1327.7 L832.8,1328.8 L834.5,1329.9 L836.2,1331.0 L837.9,1332.1 L839.6,1333.2 L841.3,1334.3 L843.0,1335.4 L844.7,1336.5 L846.4,1337.6 L848.2,1338.7 L849.9,1339.8 L851.6,1340.9 L853.3,1342.0 L855.0,1343.1 L856.8,1344.2 L858.5,1345.3 L860.2,1346.3 L862.0,1347.4 L863.7,1348.5 L865.5,1349.5 L867.2,1350.6 L869.0,1351.6 L870.7,1352.7 L872.5,1353.7 L874.2,1354.7 L876.0,1355.7 L877.8,1356.7 L879.6,1357.6 L881.3,1358.6 L883.1,1359.5 L884.9,1360.4 L886.7,1361.3 L888.5,1362.2 L890.3,1363.1 L892.1,1363.9 L893.9,1364.8 L895.8,1365.6 L897.6,1366.4 L899.4,1367.1 L901.2,1367.8 L903.1,1368.6 L904.9,1369.2 L906.8,1369.9 L908.6,1370.5 L910.5,1371.1 L912.4,1371.7 L914.2,1372.3 L916.1,1372.8 L918.0,1373.3 L919.9,1373.8 L921.8,1374.2 L923.7,1374.6 L925.6,1375.0 L927.5,1375.4 L929.4,1375.8 L931.4,1376.1 L933.3,1376.4 L935.2,1376.8 L937.2,1377.0 L939.2,1377.3 L941.1,1377.6 L943.1,1377.8 L945.1,1378.1 L947.0,1378.3 L949.0,1378.5 L951.0,1378.7 L953.0,1378.9 L955.1,1379.1 L957.1,1379.3 L959.1,1379.4 L961.1,1379.6 L963.2,1379.8 L965.2,1380.0 L967.3,1380.1 L969.4,1380.3 L971.5,1380.4 L973.5,1380.6 L975.6,1380.8 L977.7,1380.9 L979.8,1381.1 L982.0,1381.3 L984.1,1381.5" fill="none" stroke="#29a84b" stroke-width="7.2" stroke-linecap="round"/>
<path d="M318.5,1336.8H710" stroke="#231f20" stroke-width="6.3" stroke-dasharray="25.5 20.2"/>
<path d="M384.5,1294.8H503.8" stroke="#231f20" stroke-width="6" stroke-dasharray="27.5 17"/>
<path d="M671.6,1388H964.5" stroke="#231f20" stroke-width="6.3" stroke-dasharray="25 20.7" stroke-dashoffset="6.3"/>
<path d="M892.5,1455.5H1003.6" stroke="#231f20" stroke-width="6.3" stroke-dasharray="19 20 25.5 20 27"/>
<circle cx="985.6" cy="1448.5" r="3.8" fill="#231f20"/><circle cx="1001.2" cy="1449.5" r="3.8" fill="#231f20"/>
<path d="M207,1811.5H770.4" stroke="#231f20" stroke-width="6.3" stroke-dasharray="25 20.8" stroke-dashoffset="9.5"/>
<path d="M402.8,1265V1875" stroke="#231f20" stroke-width="6"/>
<path d="M183.5,1731.2H940" stroke="#231f20" stroke-width="5.2"/>
<path d="M964.0,1731.2 L933.0,1741.7 L936.7,1731.2 L933.0,1720.7Z" fill="#231f20"/>
<path d="M402.8,1153V1115" stroke="#231f20" stroke-width="6.4" stroke-linecap="round"/>
<path d="M402.8,1095.3 L413.6,1125.3 L402.8,1119.3 L392.0,1125.3Z" fill="#231f20"/>
<path d="M348.8,1474V1355" stroke="#ed2b31" stroke-width="6.4" stroke-linecap="round"/>
<path d="M348.6,1334.3 L359.1,1365.3 L348.6,1363.8 L338.1,1365.3Z" fill="#ed2b31"/>
<path d="M463.6,1424.7V1355" stroke="#ed2b31" stroke-width="6.4" stroke-linecap="round"/>
<path d="M463.8,1334.3 L474.3,1365.3 L463.8,1363.8 L453.3,1365.3Z" fill="#ed2b31"/>
<path d="M349.2,1654.5L349.6,1770" stroke="#ed2b31" stroke-width="6.4" stroke-linecap="round"/>
<path d="M349.6,1793.0 L339.1,1765.0 L349.6,1766.4 L360.1,1765.0Z" fill="#ed2b31"/>
<path d="M463.8,1608L464.2,1700" stroke="#ed2b31" stroke-width="6.4" stroke-linecap="round"/>
<path d="M464.0,1724.0 L453.5,1693.0 L464.0,1694.5 L474.5,1693.0Z" fill="#ed2b31"/>
<path d="M302.6,1795.7H409.9" stroke="#ed2b31" stroke-width="6.4" stroke-linecap="round"/>
<path d="M729.4,1494.2V1410" stroke="#3a4ea5" stroke-width="7" stroke-linecap="round"/>
<path d="M729.4,1390.5 L739.4,1420.5 L729.4,1419.0 L719.4,1420.5Z" fill="#3a4ea5"/>
<path d="M729.4,1643.8V1700" stroke="#3a4ea5" stroke-width="7" stroke-linecap="round"/>
<path d="M729.5,1724.0 L719.5,1693.0 L729.5,1694.5 L739.5,1693.0Z" fill="#3a4ea5"/>
<path d="M484,1289.8V1312" stroke="#29a84b" stroke-width="6.4" stroke-linecap="round"/>
<path d="M484.0,1329.6 L468.0,1310.6 L484.0,1310.6 L500.0,1310.6Z" fill="#29a84b"/>
<path d="M695.3,1350V1378" stroke="#29a84b" stroke-width="6.4"/>
<path d="M695.3,1333.6 L711.3,1352.1 L695.3,1352.1 L679.3,1352.1Z" fill="#29a84b"/>
<path d="M695.3,1395.5 L679.3,1377.0 L695.3,1377.0 L711.3,1377.0Z" fill="#29a84b"/>
<path d="M933.6,1451.3V1405" stroke="#29a84b" stroke-width="6.4" stroke-linecap="round"/>
<path d="M933.6,1389.6 L949.6,1408.6 L933.6,1408.6 L917.6,1408.6Z" fill="#29a84b"/>
<path d="M541.7,1745V1790" stroke="#231f20" stroke-width="5.2"/>
<path d="M541.7,1733.7 L551.7,1747.7 L541.7,1744.9 L531.7,1747.7Z" fill="#231f20"/>
<path d="M541.7,1804.1 L531.7,1787.1 L541.7,1790.5 L551.7,1787.1Z" fill="#231f20"/>
<path d="M258.2,1911.5 L258.4,1909.6 L258.6,1907.7 L258.8,1905.8 L259.0,1903.8 L259.2,1901.9 L259.5,1900.0 L259.8,1898.1 L260.1,1896.2 L260.4,1894.3 L260.7,1892.3 L261.1,1890.4 L261.4,1888.5 L261.8,1886.6 L262.2,1884.7 L262.6,1882.8 L263.1,1880.9 L263.5,1878.9 L264.0,1877.0 L264.5,1875.1 L265.0,1873.2 L265.5,1871.3 L266.0,1869.4 L266.6,1867.5 L267.1,1865.6 L267.7,1863.7 L268.3,1861.8 L268.9,1859.9 L269.5,1858.0 L270.2,1856.1 L270.8,1854.2 L271.5,1852.3 L272.2,1850.5 L272.9,1848.6 L273.6,1846.7 L274.4,1844.8 L275.1,1842.9 L275.9,1841.1 L276.7,1839.2 L277.5,1837.3 L278.3,1835.5 L279.2,1833.6 L280.0,1831.7 L280.9,1829.9 L281.8,1828.0 L282.6,1826.2 L283.6,1824.4 L284.5,1822.5 L285.4,1820.7 L286.4,1818.8 L287.4,1817.0 L288.3,1815.2 L289.3,1813.4 L290.4,1811.6 L291.4,1809.8 L292.4,1808.0 L293.5,1806.2 L294.6,1804.4 L295.7,1802.6 L296.8,1800.8 L297.9,1799.0 L299.0,1797.3 L300.2,1795.5 L301.3,1793.8 L302.5,1792.0 L303.7,1790.3 L304.9,1788.6 L306.1,1786.9 L307.4,1785.2 L308.6,1783.5 L309.9,1781.8 L311.2,1780.2 L312.5,1778.5 L313.8,1776.9 L315.1,1775.3 L316.4,1773.7 L317.8,1772.1 L319.1,1770.6 L320.5,1769.0 L321.9,1767.5 L323.3,1766.0 L324.7,1764.5 L326.1,1763.1 L327.6,1761.6 L329.0,1760.2 L330.5,1758.8 L332.0,1757.4 L333.5,1756.1 L335.0,1754.7 L336.5,1753.4 L338.1,1752.1 L339.6,1750.9 L341.2,1749.6 L342.7,1748.4 L344.3,1747.3 L345.9,1746.1 L347.6,1745.0 L349.2,1743.9 L350.8,1742.9 L352.5,1741.8 L354.1,1740.9 L355.8,1739.9 L357.5,1739.0 L359.2,1738.1 L360.9,1737.2 L362.7,1736.4 L364.4,1735.7 L366.2,1734.9 L367.9,1734.2 L369.7,1733.6 L371.5,1733.0 L373.3,1732.4 L375.1,1731.8 L376.9,1731.3 L378.8,1730.9 L380.6,1730.5 L382.5,1730.1 L384.4,1729.8 L386.2,1729.5 L388.1,1729.2 L390.0,1729.0 L391.9,1728.9 L393.8,1728.7 L395.7,1728.7 L397.6,1728.6 L399.5,1728.6 L401.4,1728.6 L403.3,1728.7 L405.2,1728.8 L407.2,1728.9 L409.1,1729.1 L411.0,1729.4 L412.9,1729.6 L414.8,1729.9 L416.7,1730.2 L418.6,1730.6 L420.5,1731.0 L422.4,1731.5 L424.3,1732.0 L426.1,1732.5 L428.0,1733.0 L429.9,1733.6 L431.7,1734.3 L433.6,1734.9 L435.4,1735.6 L437.2,1736.4 L439.0,1737.1 L440.8,1737.9 L442.6,1738.8 L444.4,1739.7 L446.1,1740.6 L447.8,1741.5 L449.6,1742.5 L451.3,1743.5 L453.0,1744.6 L454.6,1745.6 L456.3,1746.7 L457.9,1747.9 L459.5,1749.1 L461.1,1750.3 L462.7,1751.5 L464.2,1752.8 L465.8,1754.1 L467.3,1755.4 L468.8,1756.8 L470.3,1758.2 L471.7,1759.6 L473.2,1761.0 L474.6,1762.5 L476.0,1764.0 L477.4,1765.5 L478.7,1767.1 L480.1,1768.6 L481.4,1770.2 L482.7,1771.8 L484.0,1773.4 L485.3,1775.0 L486.5,1776.7 L487.7,1778.4 L488.9,1780.1 L490.1,1781.8 L491.3,1783.5 L492.5,1785.2 L493.6,1787.0 L494.7,1788.7 L495.8,1790.5 L496.9,1792.3 L498.0,1794.1 L499.0,1795.9 L500.1,1797.7 L501.1,1799.5 L502.1,1801.4 L503.1,1803.2 L504.0,1805.1 L505.0,1806.9 L505.9,1808.8 L506.9,1810.7 L507.8,1812.5 L508.7,1814.4 L509.5,1816.3 L510.4,1818.2 L511.3,1820.1 L512.1,1822.0 L513.0,1823.9 L513.8,1825.8 L514.6,1827.7 L515.4,1829.6 L516.2,1831.5 L517.0,1833.4 L517.8,1835.3 L518.5,1837.2 L519.3,1839.1 L520.0,1841.0 L520.8,1842.9 L521.5,1844.8 L522.3,1846.7 L523.0,1848.6 L523.7,1850.5 L524.4,1852.4 L525.1,1854.3 L525.9,1856.2 L526.6,1858.1 L527.3,1859.9 L528.0,1861.8 L528.7,1863.7 L529.4,1865.5 L530.1,1867.4 L530.8,1869.2 L531.5,1871.1 L532.2,1872.9 L532.9,1874.7 L533.6,1876.5 L534.3,1878.3 L535.0,1880.1 L535.7,1881.9 L536.4,1883.6 L537.1,1885.4 L537.8,1887.1 L538.5,1888.9 L539.2,1890.6 L540.0,1892.3 L540.7,1894.0 L541.5,1895.6 L542.2,1897.3" fill="none" stroke="#3a4ea5" stroke-width="6.6"/>
<path d="M166.7,1914.2 L168.1,1912.7 L169.6,1911.2 L171.0,1909.8 L172.4,1908.3 L173.9,1906.9 L175.3,1905.5 L176.8,1904.0 L178.3,1902.6 L179.8,1901.3 L181.3,1899.9 L182.8,1898.5 L184.3,1897.1 L185.8,1895.8 L187.3,1894.4 L188.9,1893.1 L190.4,1891.8 L192.0,1890.5 L193.5,1889.2 L195.1,1887.9 L196.7,1886.6 L198.2,1885.3 L199.8,1884.1 L201.4,1882.8 L203.0,1881.6 L204.6,1880.4 L206.3,1879.2 L207.9,1878.0 L209.5,1876.8 L211.2,1875.6 L212.8,1874.4 L214.5,1873.3 L216.1,1872.1 L217.8,1871.0 L219.5,1869.8 L221.2,1868.7 L222.8,1867.6 L224.5,1866.5 L226.2,1865.4 L227.9,1864.4 L229.7,1863.3 L231.4,1862.3 L233.1,1861.2 L234.8,1860.2 L236.6,1859.2 L238.3,1858.2 L240.1,1857.2 L241.8,1856.2 L243.6,1855.2 L245.4,1854.3 L247.1,1853.3 L248.9,1852.4 L250.7,1851.5 L252.5,1850.5 L254.3,1849.6 L256.1,1848.8 L257.9,1847.9 L259.7,1847.0 L261.5,1846.2 L263.3,1845.3 L265.2,1844.5 L267.0,1843.7 L268.8,1842.8 L270.7,1842.0 L272.5,1841.3 L274.4,1840.5 L276.2,1839.7 L278.1,1839.0 L279.9,1838.2 L281.8,1837.5 L283.7,1836.8 L285.6,1836.1 L287.4,1835.4 L289.3,1834.7 L291.2,1834.0 L293.1,1833.4 L295.0,1832.7 L296.9,1832.1 L298.8,1831.5 L300.7,1830.9 L302.6,1830.3 L304.5,1829.7 L306.5,1829.1 L308.4,1828.6 L310.3,1828.0 L312.2,1827.5 L314.2,1827.0 L316.1,1826.4 L318.0,1825.9 L320.0,1825.5 L321.9,1825.0 L323.9,1824.5 L325.8,1824.1 L327.7,1823.6 L329.7,1823.2 L331.7,1822.8 L333.6,1822.4 L335.6,1822.0 L337.5,1821.6 L339.5,1821.3 L341.5,1820.9 L343.4,1820.6 L345.4,1820.3 L347.4,1820.0 L349.4,1819.7 L351.3,1819.4 L353.3,1819.1 L355.3,1818.8 L357.3,1818.6 L359.3,1818.3 L361.3,1818.1 L363.2,1817.9 L365.2,1817.7 L367.2,1817.5 L369.2,1817.3 L371.2,1817.2 L373.2,1817.0 L375.2,1816.9 L377.2,1816.8 L379.2,1816.7 L381.2,1816.6 L383.2,1816.5 L385.2,1816.4 L387.2,1816.3 L389.2,1816.3 L391.2,1816.2 L393.2,1816.2 L395.2,1816.2 L397.2,1816.2 L399.2,1816.2 L401.2,1816.2 L403.2,1816.3 L405.2,1816.3 L407.2,1816.4 L409.2,1816.4 L411.2,1816.5 L413.2,1816.6 L415.2,1816.7 L417.2,1816.8 L419.2,1816.9 L421.2,1817.1 L423.2,1817.2 L425.2,1817.4 L427.2,1817.6 L429.2,1817.8 L431.2,1818.0 L433.1,1818.2 L435.1,1818.4 L437.1,1818.6 L439.1,1818.9 L441.1,1819.1 L443.1,1819.4 L445.1,1819.7 L447.1,1820.0 L449.0,1820.3 L451.0,1820.6 L453.0,1821.0 L455.0,1821.3 L457.0,1821.6 L458.9,1822.0 L460.9,1822.4 L462.9,1822.8 L464.8,1823.2 L466.8,1823.6 L468.8,1824.0 L470.7,1824.4 L472.7,1824.9 L474.7,1825.3 L476.6,1825.8 L478.6,1826.3 L480.5,1826.8 L482.5,1827.3 L484.4,1827.8 L486.3,1828.3 L488.3,1828.9 L490.2,1829.4 L492.1,1830.0 L494.1,1830.5 L496.0,1831.1 L497.9,1831.7 L499.8,1832.3 L501.8,1832.9 L503.7,1833.6 L505.6,1834.2 L507.5,1834.9 L509.4,1835.5 L511.3,1836.2 L513.2,1836.9 L515.1,1837.6 L516.9,1838.3 L518.8,1839.0 L520.7,1839.7 L522.6,1840.5 L524.4,1841.2 L526.3,1842.0 L528.2,1842.7 L530.0,1843.5 L531.9,1844.3 L533.7,1845.1 L535.6,1845.9 L537.4,1846.8 L539.2,1847.6 L541.1,1848.4 L542.9,1849.3 L544.7,1850.2 L546.5,1851.1 L548.3,1852.0 L550.1,1852.9 L551.9,1853.8 L553.7,1854.7 L555.5,1855.6 L557.3,1856.6 L559.1,1857.5 L560.8,1858.5 L562.6,1859.5 L564.4,1860.5 L566.1,1861.5 L567.9,1862.5 L569.6,1863.5 L571.3,1864.5 L573.1,1865.6 L574.8,1866.6 L576.5,1867.7 L578.2,1868.8 L579.9,1869.9 L581.6,1870.9 L583.3,1872.1 L585.0,1873.2 L586.7,1874.3 L588.3,1875.4 L590.0,1876.6 L591.7,1877.7 L593.3,1878.9 L594.9,1880.1 L596.6,1881.3 L598.2,1882.5 L599.8,1883.7 L601.4,1884.9 L603.1,1886.1 L604.7,1887.4 L606.2,1888.6 L607.8,1889.9 L609.4,1891.2 L611.0,1892.5 L612.5,1893.7 L614.1,1895.0 L615.6,1896.4 L617.2,1897.7 L618.7,1899.0 L620.2,1900.4 L621.7,1901.7 L623.2,1903.1 L624.7,1904.5 L626.2,1905.8 L627.7,1907.2 L629.2,1908.6 L630.7,1910.0 L632.1,1911.5 L633.6,1912.9 L635.0,1914.3 L636.4,1915.8 L637.8,1917.3 L639.2,1918.7" fill="none" stroke="#3a4ea5" stroke-width="6.6"/>
<rect x="1237.8" y="1079.0" width="730.0" height="725.6" fill="none" stroke="#262626" stroke-width="4.4"/>
<path d="M1237.8,1804.6v23 M1237.8,1079.0v23 M1281.8,1804.6v12 M1281.8,1079.0v11 M1307.5,1804.6v12 M1307.5,1079.0v11 M1325.7,1804.6v12 M1325.7,1079.0v11 M1339.8,1804.6v12 M1339.8,1079.0v11 M1351.4,1804.6v12 M1351.4,1079.0v11 M1361.2,1804.6v12 M1361.2,1079.0v11 M1369.7,1804.6v12 M1369.7,1079.0v11 M1377.1,1804.6v12 M1377.1,1079.0v11 M1383.8,1804.6v23 M1383.8,1079.0v23 M1427.8,1804.6v12 M1427.8,1079.0v11 M1453.5,1804.6v12 M1453.5,1079.0v11 M1471.7,1804.6v12 M1471.7,1079.0v11 M1485.8,1804.6v12 M1485.8,1079.0v11 M1497.4,1804.6v12 M1497.4,1079.0v11 M1507.2,1804.6v12 M1507.2,1079.0v11 M1515.7,1804.6v12 M1515.7,1079.0v11 M1523.1,1804.6v12 M1523.1,1079.0v11 M1529.8,1804.6v23 M1529.8,1079.0v23 M1573.8,1804.6v12 M1573.8,1079.0v11 M1599.5,1804.6v12 M1599.5,1079.0v11 M1617.7,1804.6v12 M1617.7,1079.0v11 M1631.8,1804.6v12 M1631.8,1079.0v11 M1643.4,1804.6v12 M1643.4,1079.0v11 M1653.2,1804.6v12 M1653.2,1079.0v11 M1661.7,1804.6v12 M1661.7,1079.0v11 M1669.1,1804.6v12 M1669.1,1079.0v11 M1675.8,1804.6v23 M1675.8,1079.0v23 M1719.8,1804.6v12 M1719.8,1079.0v11 M1745.5,1804.6v12 M1745.5,1079.0v11 M1763.7,1804.6v12 M1763.7,1079.0v11 M1777.8,1804.6v12 M1777.8,1079.0v11 M1789.4,1804.6v12 M1789.4,1079.0v11 M1799.2,1804.6v12 M1799.2,1079.0v11 M1807.7,1804.6v12 M1807.7,1079.0v11 M1815.1,1804.6v12 M1815.1,1079.0v11 M1821.8,1804.6v23 M1821.8,1079.0v23 M1865.8,1804.6v12 M1865.8,1079.0v11 M1891.5,1804.6v12 M1891.5,1079.0v11 M1909.7,1804.6v12 M1909.7,1079.0v11 M1923.8,1804.6v12 M1923.8,1079.0v11 M1935.4,1804.6v12 M1935.4,1079.0v11 M1945.2,1804.6v12 M1945.2,1079.0v11 M1953.7,1804.6v12 M1953.7,1079.0v11 M1961.1,1804.6v12 M1961.1,1079.0v11 M1967.8,1804.6v23 M1237.8,1804.6h-24 M1967.8,1804.6h-24 M1237.8,1695.4h-12 M1967.8,1695.4h-12 M1237.8,1631.5h-12 M1967.8,1631.5h-12 M1237.8,1586.2h-12 M1967.8,1586.2h-12 M1237.8,1551.0h-12 M1967.8,1551.0h-12 M1237.8,1522.3h-12 M1967.8,1522.3h-12 M1237.8,1498.0h-12 M1967.8,1498.0h-12 M1237.8,1477.0h-12 M1967.8,1477.0h-12 M1237.8,1458.4h-12 M1967.8,1458.4h-12 M1237.8,1441.8h-24 M1967.8,1441.8h-24 M1237.8,1332.6h-12 M1967.8,1332.6h-12 M1237.8,1268.7h-12 M1967.8,1268.7h-12 M1237.8,1223.4h-12 M1967.8,1223.4h-12 M1237.8,1188.2h-12 M1967.8,1188.2h-12 M1237.8,1159.5h-12 M1967.8,1159.5h-12 M1237.8,1135.2h-12 M1967.8,1135.2h-12 M1237.8,1114.2h-12 M1967.8,1114.2h-12 M1237.8,1095.6h-12 M1967.8,1095.6h-12 M1237.8,1079.0h-24" stroke="#262626" stroke-width="4" fill="none"/>
<path d="M1383.8,1123.9 L1745.9,1171.4 L1909.6,1432.8" fill="none" stroke="#e5282e" stroke-width="5.2" stroke-linejoin="round"/>
<path d="M1383.8,1239.1 L1777.9,1463.7 L1798.8,1473.6" fill="none" stroke="#3a4fa7" stroke-width="5.2" stroke-linejoin="round"/>
<circle cx="1383.8" cy="1123.9" r="8.6" fill="#e5282e"/>
<circle cx="1745.9" cy="1171.4" r="8.6" fill="#e5282e"/>
<circle cx="1909.6" cy="1432.8" r="8.6" fill="#e5282e"/>
<circle cx="1383.8" cy="1239.1" r="8.6" fill="#3a4fa7"/>
<circle cx="1777.9" cy="1463.7" r="8.6" fill="#3a4fa7"/>
<circle cx="1798.8" cy="1473.6" r="8.6" fill="#3a4fa7"/>
<rect x="1288.9" y="1508.9" width="302.5" height="169.8" fill="#231f20"/>
<rect x="1270.8" y="1490.8" width="303.5" height="169.8" fill="#fff" stroke="#9d9fa2" stroke-width="3"/>
<path d="M1277.2,1568H1366.6" stroke="#e5282e" stroke-width="5.4"/>
<circle cx="1321.4" cy="1568" r="8.8" fill="#e5282e"/>
<path d="M1277.2,1625.4H1366.6" stroke="#3a4fa7" stroke-width="5.4"/>
<circle cx="1321.4" cy="1625.4" r="8.8" fill="#3a4fa7"/>
<text x="107.1" y="64.6" font-family="Liberation Sans, sans-serif" font-size="57" font-weight="normal" font-style="normal" fill="#231f20" textLength="53.6" lengthAdjust="spacingAndGlyphs">a)</text>
<text x="114.7" y="885.5" font-family="Liberation Sans, sans-serif" font-size="32" font-weight="normal" font-style="normal" fill="#4d4d4f" stroke="#4d4d4f" stroke-width="0.6" textLength="46.9" lengthAdjust="spacingAndGlyphs">500</text>
<text x="99.5" y="780.3" font-family="Liberation Sans, sans-serif" font-size="32" font-weight="normal" font-style="normal" fill="#4d4d4f" stroke="#4d4d4f" stroke-width="0.6" textLength="62.3" lengthAdjust="spacingAndGlyphs">1000</text>
<text x="99.5" y="675.1" font-family="Liberation Sans, sans-serif" font-size="32" font-weight="normal" font-style="normal" fill="#4d4d4f" stroke="#4d4d4f" stroke-width="0.6" textLength="62.3" lengthAdjust="spacingAndGlyphs">1500</text>
<text x="100.3" y="569.9" font-family="Liberation Sans, sans-serif" font-size="32" font-weight="normal" font-style="normal" fill="#4d4d4f" stroke="#4d4d4f" stroke-width="0.6" textLength="61.4" lengthAdjust="spacingAndGlyphs">2000</text>
<text x="100.3" y="464.7" font-family="Liberation Sans, sans-serif" font-size="32" font-weight="normal" font-style="normal" fill="#4d4d4f" stroke="#4d4d4f" stroke-width="0.6" textLength="61.4" lengthAdjust="spacingAndGlyphs">2500</text>
<text x="100.6" y="359.5" font-family="Liberation Sans, sans-serif" font-size="32" font-weight="normal" font-style="normal" fill="#4d4d4f" stroke="#4d4d4f" stroke-width="0.6" textLength="61.1" lengthAdjust="spacingAndGlyphs">3000</text>
<text x="100.6" y="254.3" font-family="Liberation Sans, sans-serif" font-size="32" font-weight="normal" font-style="normal" fill="#4d4d4f" stroke="#4d4d4f" stroke-width="0.6" textLength="61.1" lengthAdjust="spacingAndGlyphs">3500</text>
<text x="101.2" y="149.1" font-family="Liberation Sans, sans-serif" font-size="32" font-weight="normal" font-style="normal" fill="#4d4d4f" stroke="#4d4d4f" stroke-width="0.6" textLength="60.6" lengthAdjust="spacingAndGlyphs">4000</text>
<text x="131.7" y="909.3" font-family="Liberation Sans, sans-serif" font-size="31" font-weight="normal" font-style="normal" fill="#4d4d4f" stroke="#4d4d4f" stroke-width="0.6" textLength="63.7" lengthAdjust="spacingAndGlyphs">-0.01</text>
<text x="329.5" y="909.3" font-family="Liberation Sans, sans-serif" font-size="31" font-weight="normal" font-style="normal" fill="#4d4d4f" stroke="#4d4d4f" stroke-width="0.6" textLength="83.5" lengthAdjust="spacingAndGlyphs">-0.005</text>
<text x="574.9" y="909.3" font-family="Liberation Sans, sans-serif" font-size="31" font-weight="normal" font-style="normal" fill="#4d4d4f" stroke="#4d4d4f" stroke-width="0.6" textLength="15.9" lengthAdjust="spacingAndGlyphs">0</text>
<text x="756.1" y="909.3" font-family="Liberation Sans, sans-serif" font-size="31" font-weight="normal" font-style="normal" fill="#4d4d4f" stroke="#4d4d4f" stroke-width="0.6" textLength="71.8" lengthAdjust="spacingAndGlyphs">0.005</text>
<text x="972.8" y="909.3" font-family="Liberation Sans, sans-serif" font-size="31" font-weight="normal" font-style="normal" fill="#4d4d4f" stroke="#4d4d4f" stroke-width="0.6" textLength="52.4" lengthAdjust="spacingAndGlyphs">0.01</text>
<text x="313.8" y="204.0" font-family="Liberation Sans, sans-serif" font-size="33" font-weight="bold" font-style="normal" fill="#58585a" textLength="123.5" lengthAdjust="spacingAndGlyphs">GeSn8.5%</text>
<text x="363.1" y="353.4" font-family="Liberation Sans, sans-serif" font-size="63" font-weight="normal" font-style="normal" fill="#231f20" stroke="#231f20" stroke-width="0.35" textLength="37.9" lengthAdjust="spacingAndGlyphs">N</text>
<text x="402.7" y="365.1" font-family="Liberation Sans, sans-serif" font-size="40" font-weight="normal" font-style="normal" fill="#231f20" stroke="#231f20" stroke-width="0.35" textLength="19.2" lengthAdjust="spacingAndGlyphs">h</text>
<text x="423.4" y="353.4" font-family="Liberation Sans, sans-serif" font-size="63" font-weight="normal" font-style="normal" fill="#231f20" stroke="#231f20" stroke-width="0.35" textLength="32.0" lengthAdjust="spacingAndGlyphs">=</text>
<text x="457.2" y="353.4" font-family="Liberation Sans, sans-serif" font-size="62" font-weight="normal" font-style="normal" fill="#231f20" stroke="#231f20" stroke-width="0.35" textLength="58.8" lengthAdjust="spacingAndGlyphs">10</text>
<text x="517.5" y="332.8" font-family="Liberation Sans, sans-serif" font-size="38" font-weight="normal" font-style="normal" fill="#231f20" stroke="#231f20" stroke-width="0.35" textLength="38.8" lengthAdjust="spacingAndGlyphs">14</text>
<text x="556.6" y="353.4" font-family="Liberation Sans, sans-serif" font-size="63" font-weight="normal" font-style="normal" fill="#231f20" stroke="#231f20" stroke-width="0.35" textLength="101.6" lengthAdjust="spacingAndGlyphs">, ...,</text>
<text x="675.0" y="353.4" font-family="Liberation Sans, sans-serif" font-size="62" font-weight="normal" font-style="normal" fill="#231f20" stroke="#231f20" stroke-width="0.35" textLength="58.7" lengthAdjust="spacingAndGlyphs">10</text>
<text x="735.8" y="332.8" font-family="Liberation Sans, sans-serif" font-size="38" font-weight="normal" font-style="normal" fill="#231f20" stroke="#231f20" stroke-width="0.35" textLength="39.6" lengthAdjust="spacingAndGlyphs">17</text>
<text x="792.1" y="353.4" font-family="Liberation Sans, sans-serif" font-size="62" font-weight="normal" font-style="normal" fill="#231f20" stroke="#231f20" stroke-width="0.35" textLength="72.8" lengthAdjust="spacingAndGlyphs">cm</text>
<text x="866.0" y="332.8" font-family="Liberation Sans, sans-serif" font-size="38" font-weight="normal" font-style="normal" fill="#231f20" stroke="#231f20" stroke-width="0.35" textLength="30.6" lengthAdjust="spacingAndGlyphs">-3</text>
<text x="459.8" y="980.4" font-family="Liberation Sans, sans-serif" font-size="60" font-weight="normal" font-style="normal" fill="#231f20" textLength="334.8" lengthAdjust="spacingAndGlyphs">biaxial strain</text>
<text x="-3.0" y="0.0" transform="translate(69.8,873.0) rotate(-90)" font-family="Liberation Sans, sans-serif" font-size="60" font-weight="normal" font-style="normal" fill="#231f20" textLength="528.5" lengthAdjust="spacingAndGlyphs">Carrier mobility (cm</text>
<text x="-1.9" y="0.0" transform="translate(49.1,342.5) rotate(-90)" font-family="Liberation Sans, sans-serif" font-size="38.5" font-weight="normal" font-style="normal" fill="#231f20" textLength="20.9" lengthAdjust="spacingAndGlyphs">2</text>
<text x="-0.0" y="0.0" transform="translate(70.0,321.0) rotate(-90)" font-family="Liberation Sans, sans-serif" font-size="60" font-weight="normal" font-style="normal" fill="#231f20" textLength="104.4" lengthAdjust="spacingAndGlyphs">/Vs)</text>
<text x="1216.4" y="72.8" font-family="Liberation Sans, sans-serif" font-size="57" font-weight="normal" font-style="normal" fill="#231f20" textLength="54.5" lengthAdjust="spacingAndGlyphs">b)</text>
<text x="1115.0" y="185.7" font-family="Liberation Serif, serif" font-size="61" font-weight="bold" font-style="normal" fill="#2b2728" textLength="88.9" lengthAdjust="spacingAndGlyphs">0.06</text>
<text x="1115.0" y="340.4" font-family="Liberation Serif, serif" font-size="61" font-weight="bold" font-style="normal" fill="#2b2728" textLength="89.4" lengthAdjust="spacingAndGlyphs">0.05</text>
<text x="1115.0" y="495.1" font-family="Liberation Serif, serif" font-size="61" font-weight="bold" font-style="normal" fill="#2b2728" textLength="88.3" lengthAdjust="spacingAndGlyphs">0.04</text>
<text x="1115.0" y="649.8" font-family="Liberation Serif, serif" font-size="61" font-weight="bold" font-style="normal" fill="#2b2728" textLength="88.9" lengthAdjust="spacingAndGlyphs">0.03</text>
<text x="1115.0" y="804.5" font-family="Liberation Serif, serif" font-size="61" font-weight="bold" font-style="normal" fill="#2b2728" textLength="89.4" lengthAdjust="spacingAndGlyphs">0.02</text>
<text x="1204.8" y="924.3" font-family="Liberation Serif, serif" font-size="61" font-weight="bold" font-style="normal" fill="#2b2728" textLength="89.7" lengthAdjust="spacingAndGlyphs">0.00</text>
<text x="1368.8" y="924.3" font-family="Liberation Serif, serif" font-size="61" font-weight="bold" font-style="normal" fill="#2b2728" textLength="89.7" lengthAdjust="spacingAndGlyphs">0.05</text>
<text x="1532.7" y="924.3" font-family="Liberation Serif, serif" font-size="61" font-weight="bold" font-style="normal" fill="#2b2728" textLength="89.7" lengthAdjust="spacingAndGlyphs">0.10</text>
<text x="1696.7" y="924.3" font-family="Liberation Serif, serif" font-size="61" font-weight="bold" font-style="normal" fill="#2b2728" textLength="89.7" lengthAdjust="spacingAndGlyphs">0.15</text>
<text x="1860.6" y="924.3" font-family="Liberation Serif, serif" font-size="61" font-weight="bold" font-style="normal" fill="#2b2728" textLength="89.7" lengthAdjust="spacingAndGlyphs">0.20</text>
<text x="1792.7" y="345.0" font-family="Liberation Serif, serif" font-size="60" font-weight="bold" font-style="normal" fill="#2b2728" textLength="107.0" lengthAdjust="spacingAndGlyphs">[100]</text>
<text x="1792.7" y="415.8" font-family="Liberation Serif, serif" font-size="60" font-weight="bold" font-style="normal" fill="#2b2728" textLength="106.9" lengthAdjust="spacingAndGlyphs">[110]</text>
<text x="1792.5" y="486.7" font-family="Liberation Serif, serif" font-size="60" font-weight="bold" font-style="normal" fill="#2b2728" textLength="107.4" lengthAdjust="spacingAndGlyphs">[111]</text>
<text x="1597.0" y="974.4" font-family="Liberation Serif, serif" font-size="64" font-weight="bold" font-style="italic" fill="#2b2728" textLength="29.9" lengthAdjust="spacingAndGlyphs">x</text>
<text x="-1.1" y="0.0" transform="translate(1078.8,586.6) rotate(-90)" font-family="Liberation Serif, serif" font-size="51" font-weight="bold" font-style="italic" fill="#2b2728" textLength="44.5" lengthAdjust="spacingAndGlyphs">m</text>
<text x="-1.1" y="0.0" transform="translate(1098.8,544.5) rotate(-90)" font-family="Liberation Serif, serif" font-size="30" font-weight="bold" font-style="italic" fill="#2b2728" textLength="31.9" lengthAdjust="spacingAndGlyphs">th</text>
<text x="-2.9" y="0.0" transform="translate(1078.3,499.1) rotate(-90)" font-family="Liberation Serif, serif" font-size="51" font-weight="bold" font-style="italic" fill="#2b2728" textLength="63.9" lengthAdjust="spacingAndGlyphs">(m</text>
<text x="-1.3" y="0.0" transform="translate(1098.7,437.4) rotate(-90)" font-family="Liberation Serif, serif" font-size="29" font-weight="bold" font-style="italic" fill="#2b2728" textLength="21.2" lengthAdjust="spacingAndGlyphs">0</text>
<text x="3.7" y="0.0" transform="translate(1078.3,421.1) rotate(-90)" font-family="Liberation Serif, serif" font-size="51" font-weight="bold" font-style="italic" fill="#2b2728" textLength="17.5" lengthAdjust="spacingAndGlyphs">)</text>
<text x="130.8" y="996.5" font-family="Liberation Sans, sans-serif" font-size="57" font-weight="normal" font-style="normal" fill="#231f20" textLength="51.9" lengthAdjust="spacingAndGlyphs">c)</text>
<text x="391.9" y="1087.6" font-family="Liberation Serif, serif" font-size="56" font-weight="bold" font-style="normal" fill="#231f20" textLength="37.6" lengthAdjust="spacingAndGlyphs">E</text>
<text x="388.5" y="1229.0" font-family="Liberation Serif, serif" font-size="61" font-weight="normal" font-style="normal" fill="#231f20" textLength="37.4" lengthAdjust="spacingAndGlyphs">Γ</text>
<text x="929.9" y="1332.5" font-family="Liberation Serif, serif" font-size="60" font-weight="bold" font-style="normal" fill="#231f20" textLength="38.1" lengthAdjust="spacingAndGlyphs">L</text>
<text x="982.8" y="1745.6" font-family="Liberation Serif, serif" font-size="55" font-weight="bold" font-style="normal" fill="#231f20" textLength="29.4" lengthAdjust="spacingAndGlyphs">k</text>
<text x="533.3" y="1324.8" font-family="Liberation Sans, sans-serif" font-size="57" font-weight="bold" font-style="normal" fill="#29a84b" textLength="143.0" lengthAdjust="spacingAndGlyphs">0.015</text>
<text x="509.4" y="1396.6" font-family="Liberation Sans, sans-serif" font-size="57" font-weight="bold" font-style="normal" fill="#29a84b" textLength="144.4" lengthAdjust="spacingAndGlyphs">0.088</text>
<text x="754.6" y="1450.3" font-family="Liberation Sans, sans-serif" font-size="57" font-weight="bold" font-style="normal" fill="#29a84b" textLength="134.5" lengthAdjust="spacingAndGlyphs">0.021</text>
<text x="584.2" y="1798.5" font-family="Liberation Sans, sans-serif" font-size="55.4" font-weight="bold" font-style="normal" fill="#231f20" textLength="144.0" lengthAdjust="spacingAndGlyphs">0.026</text>
<text x="199.2" y="1565.6" font-family="Liberation Sans, sans-serif" font-size="58" font-weight="bold" font-style="normal" fill="#ed2b31" textLength="38.0" lengthAdjust="spacingAndGlyphs">E</text>
<text x="237.7" y="1574.7" font-family="Liberation Sans, sans-serif" font-size="43.2" font-weight="bold" font-style="normal" fill="#ed2b31" textLength="105.8" lengthAdjust="spacingAndGlyphs">D,HH</text>
<text x="199.9" y="1633.6" font-family="Liberation Sans, sans-serif" font-size="58" font-weight="bold" font-style="normal" fill="#ed2b31" textLength="169.5" lengthAdjust="spacingAndGlyphs">=0.851</text>
<text x="424.0" y="1503.2" font-family="Liberation Sans, sans-serif" font-size="59" font-weight="bold" font-style="normal" fill="#ed2b31" textLength="36.7" lengthAdjust="spacingAndGlyphs">E</text>
<text x="461.3" y="1512.2" font-family="Liberation Sans, sans-serif" font-size="44.6" font-weight="bold" font-style="normal" fill="#ed2b31" textLength="101.6" lengthAdjust="spacingAndGlyphs">D,LH</text>
<text x="423.4" y="1571.3" font-family="Liberation Sans, sans-serif" font-size="59.6" font-weight="bold" font-style="normal" fill="#ed2b31" textLength="177.6" lengthAdjust="spacingAndGlyphs">=0.827</text>
<text x="668.2" y="1565.0" font-family="Liberation Sans, sans-serif" font-size="57" font-weight="bold" font-style="normal" fill="#3a4ea5" textLength="36.9" lengthAdjust="spacingAndGlyphs">E</text>
<text x="706.3" y="1574.3" font-family="Liberation Sans, sans-serif" font-size="43.6" font-weight="bold" font-style="normal" fill="#3a4ea5" textLength="113.4" lengthAdjust="spacingAndGlyphs">ID,LH</text>
<text x="667.7" y="1634.1" font-family="Liberation Sans, sans-serif" font-size="58.3" font-weight="bold" font-style="normal" fill="#3a4ea5" textLength="177.9" lengthAdjust="spacingAndGlyphs">=0.739</text>
<text x="515.4" y="1947.9" font-family="Liberation Sans, sans-serif" font-size="52.2" font-weight="bold" font-style="normal" fill="#231f20" textLength="75.8" lengthAdjust="spacingAndGlyphs">LH</text>
<text x="659.4" y="1939.5" font-family="Liberation Sans, sans-serif" font-size="54.6" font-weight="bold" font-style="normal" fill="#231f20" textLength="84.0" lengthAdjust="spacingAndGlyphs">HH</text>
<text x="1222.0" y="1022.3" font-family="Liberation Sans, sans-serif" font-size="56" font-weight="normal" font-style="normal" fill="#231f20" textLength="54.7" lengthAdjust="spacingAndGlyphs">d)</text>
<text x="1109.3" y="1091.0" font-family="Liberation Sans, sans-serif" font-size="40.3" font-weight="normal" font-style="normal" fill="#333333" textLength="87.4" lengthAdjust="spacingAndGlyphs">1000</text>
<text x="1128.6" y="1455.2" font-family="Liberation Sans, sans-serif" font-size="40.3" font-weight="normal" font-style="normal" fill="#333333" textLength="72.9" lengthAdjust="spacingAndGlyphs">100</text>
<text x="1151.3" y="1816.5" font-family="Liberation Sans, sans-serif" font-size="40.3" font-weight="normal" font-style="normal" fill="#333333" textLength="46.4" lengthAdjust="spacingAndGlyphs">10</text>
<text x="1200.3" y="1882.5" font-family="Liberation Sans, sans-serif" font-size="40.0" font-weight="normal" font-style="normal" fill="#333333" textLength="42.7" lengthAdjust="spacingAndGlyphs">10</text>
<text x="1246.9" y="1866.3" font-family="Liberation Sans, sans-serif" font-size="26.5" font-weight="normal" font-style="normal" fill="#333333" textLength="28.1" lengthAdjust="spacingAndGlyphs">16</text>
<text x="1346.5" y="1882.5" font-family="Liberation Sans, sans-serif" font-size="40.0" font-weight="normal" font-style="normal" fill="#333333" textLength="42.8" lengthAdjust="spacingAndGlyphs">10</text>
<text x="1392.1" y="1866.3" font-family="Liberation Sans, sans-serif" font-size="26.5" font-weight="normal" font-style="normal" fill="#333333" textLength="28.4" lengthAdjust="spacingAndGlyphs">17</text>
<text x="1493.6" y="1882.5" font-family="Liberation Sans, sans-serif" font-size="40.0" font-weight="normal" font-style="normal" fill="#333333" textLength="42.2" lengthAdjust="spacingAndGlyphs">10</text>
<text x="1536.5" y="1866.3" font-family="Liberation Sans, sans-serif" font-size="26.5" font-weight="normal" font-style="normal" fill="#333333" textLength="30.4" lengthAdjust="spacingAndGlyphs">18</text>
<text x="1639.3" y="1882.5" font-family="Liberation Sans, sans-serif" font-size="40.0" font-weight="normal" font-style="normal" fill="#333333" textLength="42.2" lengthAdjust="spacingAndGlyphs">10</text>
<text x="1682.0" y="1866.3" font-family="Liberation Sans, sans-serif" font-size="26.5" font-weight="normal" font-style="normal" fill="#333333" textLength="32.7" lengthAdjust="spacingAndGlyphs">19</text>
<text x="1784.9" y="1882.5" font-family="Liberation Sans, sans-serif" font-size="40.0" font-weight="normal" font-style="normal" fill="#333333" textLength="42.2" lengthAdjust="spacingAndGlyphs">10</text>
<text x="1828.6" y="1866.3" font-family="Liberation Sans, sans-serif" font-size="26.5" font-weight="normal" font-style="normal" fill="#333333" textLength="31.4" lengthAdjust="spacingAndGlyphs">20</text>
<text x="1930.9" y="1882.5" font-family="Liberation Sans, sans-serif" font-size="40.0" font-weight="normal" font-style="normal" fill="#333333" textLength="42.6" lengthAdjust="spacingAndGlyphs">10</text>
<text x="1975.8" y="1866.3" font-family="Liberation Sans, sans-serif" font-size="26.5" font-weight="normal" font-style="normal" fill="#333333" textLength="26.8" lengthAdjust="spacingAndGlyphs">21</text>
<text x="1254.0" y="1958.5" font-family="Liberation Sans, sans-serif" font-size="45.8" font-weight="normal" font-style="normal" fill="#333333" textLength="592.1" lengthAdjust="spacingAndGlyphs">Carrier concetration, N/P (cm</text>
<text x="1846.3" y="1940.3" font-family="Liberation Sans, sans-serif" font-size="30" font-weight="normal" font-style="normal" fill="#333333" textLength="26.5" lengthAdjust="spacingAndGlyphs">-3</text>
<text x="1876.1" y="1958.5" font-family="Liberation Sans, sans-serif" font-size="45.8" font-weight="normal" font-style="normal" fill="#333333" textLength="12.6" lengthAdjust="spacingAndGlyphs">)</text>
<text x="-2.2" y="0.0" transform="translate(1095.0,1722.2) rotate(-90)" font-family="Liberation Sans, sans-serif" font-size="46.5" font-weight="normal" font-style="normal" fill="#333333" textLength="435.5" lengthAdjust="spacingAndGlyphs">Carrier mobility, μ (cm</text>
<text x="-1.3" y="0.0" transform="translate(1074.5,1289.3) rotate(-90)" font-family="Liberation Sans, sans-serif" font-size="28.7" font-weight="normal" font-style="normal" fill="#333333" textLength="14.0" lengthAdjust="spacingAndGlyphs">2</text>
<text x="-0.5" y="0.0" transform="translate(1095.0,1278.2) rotate(-90)" font-family="Liberation Sans, sans-serif" font-size="46.5" font-weight="normal" font-style="normal" fill="#333333" textLength="36.1" lengthAdjust="spacingAndGlyphs">V</text>
<text x="-1.0" y="0.0" transform="translate(1074.5,1240.4) rotate(-90)" font-family="Liberation Sans, sans-serif" font-size="28.7" font-weight="normal" font-style="normal" fill="#333333" textLength="22.6" lengthAdjust="spacingAndGlyphs">-1</text>
<text x="-1.4" y="0.0" transform="translate(1095.0,1213.6) rotate(-90)" font-family="Liberation Sans, sans-serif" font-size="46.5" font-weight="normal" font-style="normal" fill="#333333" textLength="22.7" lengthAdjust="spacingAndGlyphs">s</text>
<text x="-0.9" y="0.0" transform="translate(1074.5,1186.8) rotate(-90)" font-family="Liberation Sans, sans-serif" font-size="28.7" font-weight="normal" font-style="normal" fill="#333333" textLength="19.9" lengthAdjust="spacingAndGlyphs">-1</text>
<text x="-0.3" y="0.0" transform="translate(1095.0,1160.0) rotate(-90)" font-family="Liberation Sans, sans-serif" font-size="46.5" font-weight="normal" font-style="normal" fill="#333333" textLength="9.9" lengthAdjust="spacingAndGlyphs">)</text>
<text x="1277.2" y="1532.8" font-family="Liberation Sans, sans-serif" font-size="41.9" font-weight="normal" font-style="normal" fill="#2b2b2b" textLength="70.6" lengthAdjust="spacingAndGlyphs">15K</text>
<text x="1375.9" y="1582.4" font-family="Liberation Sans, sans-serif" font-size="42.5" font-weight="normal" font-style="normal" fill="#2b2b2b" textLength="92.2" lengthAdjust="spacingAndGlyphs">p-Ge</text>
<text x="1468.8" y="1593.3" font-family="Liberation Sans, sans-serif" font-size="27" font-weight="normal" font-style="normal" fill="#2b2b2b" textLength="36.5" lengthAdjust="spacingAndGlyphs">1-x</text>
<text x="1505.9" y="1582.4" font-family="Liberation Sans, sans-serif" font-size="42.5" font-weight="normal" font-style="normal" fill="#2b2b2b" textLength="48.7" lengthAdjust="spacingAndGlyphs">Sn</text>
<text x="1554.6" y="1593.3" font-family="Liberation Sans, sans-serif" font-size="27.3" font-weight="normal" font-style="normal" fill="#2b2b2b" textLength="13.0" lengthAdjust="spacingAndGlyphs">x</text>
<text x="1375.9" y="1639.3" font-family="Liberation Sans, sans-serif" font-size="42.5" font-weight="normal" font-style="normal" fill="#2b2b2b" textLength="92.2" lengthAdjust="spacingAndGlyphs">n-Ge</text>
<text x="1468.8" y="1650.2" font-family="Liberation Sans, sans-serif" font-size="27" font-weight="normal" font-style="normal" fill="#2b2b2b" textLength="36.5" lengthAdjust="spacingAndGlyphs">1-x</text>
<text x="1505.9" y="1639.3" font-family="Liberation Sans, sans-serif" font-size="42.5" font-weight="normal" font-style="normal" fill="#2b2b2b" textLength="48.7" lengthAdjust="spacingAndGlyphs">Sn</text>
<text x="1554.6" y="1650.2" font-family="Liberation Sans, sans-serif" font-size="27.3" font-weight="normal" font-style="normal" fill="#2b2b2b" textLength="13.0" lengthAdjust="spacingAndGlyphs">x</text>
<text x="1076.6" y="1105.1" font-family="Liberation Sans, sans-serif" font-size="62" font-weight="bold" font-style="normal" fill="#231f20" textLength="34.6" lengthAdjust="spacingAndGlyphs">e</text>
<text x="-1.2" y="0.0" transform="translate(1050.0,539.0) rotate(-90)" font-family="Liberation Serif, serif" font-size="26" font-weight="bold" font-style="normal" fill="#2b2728" textLength="14.4" lengthAdjust="spacingAndGlyphs">*</text>
</svg>
</body></html>
